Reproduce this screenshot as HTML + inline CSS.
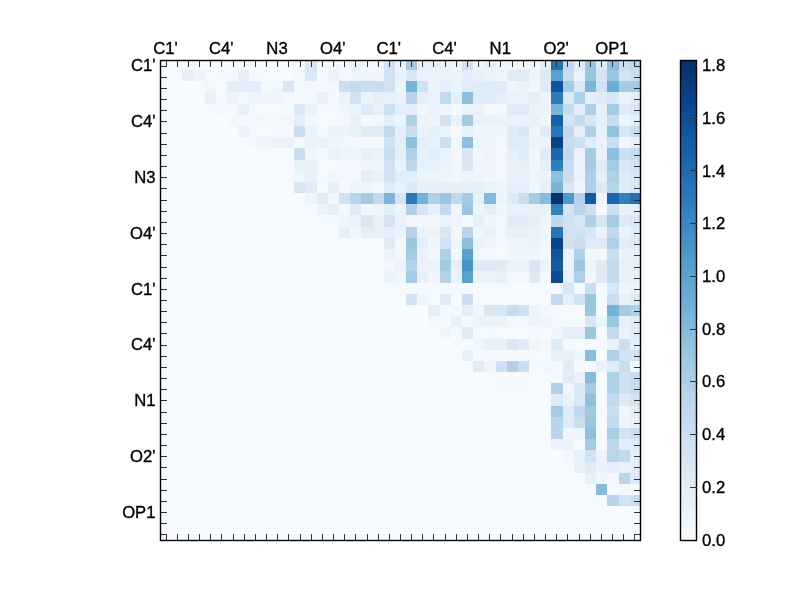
<!DOCTYPE html>
<html><head><meta charset="utf-8"><style>
html,body{margin:0;padding:0;background:#fff;width:800px;height:600px;overflow:hidden;}
#w{position:relative;width:800px;height:600px;}
svg{display:block;}
text{font-family:"Liberation Sans",sans-serif;stroke:#000;stroke-width:0.35px;}
</style></head><body><div id="w">
<svg width="800" height="600" viewBox="0 0 800 600" shape-rendering="crispEdges">
<rect x="0" y="0" width="800" height="600" fill="#ffffff"/>
<rect x="160" y="60" width="11" height="10" fill="#f7fbff"/>
<rect x="171" y="60" width="11" height="10" fill="#f7fbff"/>
<rect x="182" y="60" width="12" height="10" fill="#f7fbff"/>
<rect x="194" y="60" width="11" height="10" fill="#f7fbff"/>
<rect x="205" y="60" width="11" height="10" fill="#f7fbff"/>
<rect x="216" y="60" width="11" height="10" fill="#f7fbff"/>
<rect x="227" y="60" width="11" height="10" fill="#f7fbff"/>
<rect x="238" y="60" width="11" height="10" fill="#f7fbff"/>
<rect x="249" y="60" width="12" height="10" fill="#f7fbff"/>
<rect x="261" y="60" width="11" height="10" fill="#f7fbff"/>
<rect x="272" y="60" width="11" height="10" fill="#f7fbff"/>
<rect x="283" y="60" width="11" height="10" fill="#f7fbff"/>
<rect x="294" y="60" width="11" height="10" fill="#f4f9fe"/>
<rect x="305" y="60" width="12" height="10" fill="#d9e7f5"/>
<rect x="317" y="60" width="11" height="10" fill="#f4f9fe"/>
<rect x="328" y="60" width="11" height="10" fill="#f2f8fd"/>
<rect x="339" y="60" width="11" height="10" fill="#f4f9fe"/>
<rect x="350" y="60" width="11" height="10" fill="#eaf3fb"/>
<rect x="361" y="60" width="12" height="10" fill="#f1f7fd"/>
<rect x="373" y="60" width="11" height="10" fill="#f1f7fd"/>
<rect x="384" y="60" width="11" height="10" fill="#d1e2f3"/>
<rect x="395" y="60" width="11" height="10" fill="#eaf3fb"/>
<rect x="406" y="60" width="11" height="10" fill="#a3cce3"/>
<rect x="417" y="60" width="11" height="10" fill="#e7f1fa"/>
<rect x="428" y="60" width="12" height="10" fill="#e7f1fa"/>
<rect x="440" y="60" width="11" height="10" fill="#eaf3fb"/>
<rect x="451" y="60" width="11" height="10" fill="#eff6fc"/>
<rect x="462" y="60" width="11" height="10" fill="#d1e2f3"/>
<rect x="473" y="60" width="11" height="10" fill="#eff6fc"/>
<rect x="484" y="60" width="12" height="10" fill="#e7f1fa"/>
<rect x="496" y="60" width="11" height="10" fill="#eff6fc"/>
<rect x="507" y="60" width="11" height="10" fill="#eff6fc"/>
<rect x="518" y="60" width="11" height="10" fill="#eff6fc"/>
<rect x="529" y="60" width="11" height="10" fill="#f2f8fd"/>
<rect x="540" y="60" width="11" height="10" fill="#e4eff9"/>
<rect x="551" y="60" width="12" height="10" fill="#2272b6"/>
<rect x="563" y="60" width="11" height="10" fill="#c2d9ee"/>
<rect x="574" y="60" width="11" height="10" fill="#dfecf7"/>
<rect x="585" y="60" width="11" height="10" fill="#99c7e0"/>
<rect x="596" y="60" width="11" height="10" fill="#dfecf7"/>
<rect x="607" y="60" width="12" height="10" fill="#8cc0dd"/>
<rect x="619" y="60" width="11" height="10" fill="#cadef0"/>
<rect x="630" y="60" width="11" height="10" fill="#bcd7eb"/>
<rect x="160" y="70" width="11" height="11" fill="#f7fbff"/>
<rect x="171" y="70" width="11" height="11" fill="#f7fbff"/>
<rect x="182" y="70" width="12" height="11" fill="#e4eff9"/>
<rect x="194" y="70" width="11" height="11" fill="#ecf4fb"/>
<rect x="205" y="70" width="11" height="11" fill="#f4f9fe"/>
<rect x="216" y="70" width="11" height="11" fill="#f2f8fd"/>
<rect x="227" y="70" width="11" height="11" fill="#f4f9fe"/>
<rect x="238" y="70" width="11" height="11" fill="#e4eff9"/>
<rect x="249" y="70" width="12" height="11" fill="#f5fafe"/>
<rect x="261" y="70" width="11" height="11" fill="#f5fafe"/>
<rect x="272" y="70" width="11" height="11" fill="#f5fafe"/>
<rect x="283" y="70" width="11" height="11" fill="#f5fafe"/>
<rect x="294" y="70" width="11" height="11" fill="#f1f7fd"/>
<rect x="305" y="70" width="12" height="11" fill="#dbe9f6"/>
<rect x="317" y="70" width="11" height="11" fill="#f4f9fe"/>
<rect x="328" y="70" width="11" height="11" fill="#eaf3fb"/>
<rect x="339" y="70" width="11" height="11" fill="#f2f8fd"/>
<rect x="350" y="70" width="11" height="11" fill="#eff6fc"/>
<rect x="361" y="70" width="12" height="11" fill="#eef5fc"/>
<rect x="373" y="70" width="11" height="11" fill="#eff6fc"/>
<rect x="384" y="70" width="11" height="11" fill="#d1e2f3"/>
<rect x="395" y="70" width="11" height="11" fill="#e7f1fa"/>
<rect x="406" y="70" width="11" height="11" fill="#d9e7f5"/>
<rect x="417" y="70" width="11" height="11" fill="#eaf3fb"/>
<rect x="428" y="70" width="12" height="11" fill="#eaf3fb"/>
<rect x="440" y="70" width="11" height="11" fill="#ecf4fb"/>
<rect x="451" y="70" width="11" height="11" fill="#ecf4fb"/>
<rect x="462" y="70" width="11" height="11" fill="#e4eff9"/>
<rect x="473" y="70" width="11" height="11" fill="#e7f1fa"/>
<rect x="484" y="70" width="12" height="11" fill="#eaf3fb"/>
<rect x="496" y="70" width="11" height="11" fill="#eff6fc"/>
<rect x="507" y="70" width="11" height="11" fill="#deebf7"/>
<rect x="518" y="70" width="11" height="11" fill="#deebf7"/>
<rect x="529" y="70" width="11" height="11" fill="#ecf4fb"/>
<rect x="540" y="70" width="11" height="11" fill="#deebf7"/>
<rect x="551" y="70" width="12" height="11" fill="#58a1cf"/>
<rect x="563" y="70" width="11" height="11" fill="#c8dcf0"/>
<rect x="574" y="70" width="11" height="11" fill="#eaf3fb"/>
<rect x="585" y="70" width="11" height="11" fill="#99c7e0"/>
<rect x="596" y="70" width="11" height="11" fill="#d6e5f4"/>
<rect x="607" y="70" width="12" height="11" fill="#99c7e0"/>
<rect x="619" y="70" width="11" height="11" fill="#d1e2f3"/>
<rect x="630" y="70" width="11" height="11" fill="#cadef0"/>
<rect x="160" y="81" width="11" height="11" fill="#f7fbff"/>
<rect x="171" y="81" width="11" height="11" fill="#f7fbff"/>
<rect x="182" y="81" width="12" height="11" fill="#f7fbff"/>
<rect x="194" y="81" width="11" height="11" fill="#f7fbff"/>
<rect x="205" y="81" width="11" height="11" fill="#eff6fc"/>
<rect x="216" y="81" width="11" height="11" fill="#f4f9fe"/>
<rect x="227" y="81" width="11" height="11" fill="#e1edf8"/>
<rect x="238" y="81" width="11" height="11" fill="#e1edf8"/>
<rect x="249" y="81" width="12" height="11" fill="#e1edf8"/>
<rect x="261" y="81" width="11" height="11" fill="#f4f9fe"/>
<rect x="272" y="81" width="11" height="11" fill="#eff6fc"/>
<rect x="283" y="81" width="11" height="11" fill="#d9e7f5"/>
<rect x="294" y="81" width="11" height="11" fill="#f4f9fe"/>
<rect x="305" y="81" width="12" height="11" fill="#f2f8fd"/>
<rect x="317" y="81" width="11" height="11" fill="#f4f9fe"/>
<rect x="328" y="81" width="11" height="11" fill="#f2f8fd"/>
<rect x="339" y="81" width="11" height="11" fill="#cadef0"/>
<rect x="350" y="81" width="11" height="11" fill="#c2d9ee"/>
<rect x="361" y="81" width="12" height="11" fill="#cadef0"/>
<rect x="373" y="81" width="11" height="11" fill="#cadef0"/>
<rect x="384" y="81" width="11" height="11" fill="#d1e2f3"/>
<rect x="395" y="81" width="11" height="11" fill="#ecf4fb"/>
<rect x="406" y="81" width="11" height="11" fill="#74b3d8"/>
<rect x="417" y="81" width="11" height="11" fill="#d1e2f3"/>
<rect x="428" y="81" width="12" height="11" fill="#ecf4fb"/>
<rect x="440" y="81" width="11" height="11" fill="#e4eff9"/>
<rect x="451" y="81" width="11" height="11" fill="#ecf4fb"/>
<rect x="462" y="81" width="11" height="11" fill="#dfecf7"/>
<rect x="473" y="81" width="11" height="11" fill="#dfecf7"/>
<rect x="484" y="81" width="12" height="11" fill="#dfecf7"/>
<rect x="496" y="81" width="11" height="11" fill="#dfecf7"/>
<rect x="507" y="81" width="11" height="11" fill="#eef5fc"/>
<rect x="518" y="81" width="11" height="11" fill="#eaf3fb"/>
<rect x="529" y="81" width="11" height="11" fill="#eff6fc"/>
<rect x="540" y="81" width="11" height="11" fill="#dfecf7"/>
<rect x="551" y="81" width="12" height="11" fill="#0c56a0"/>
<rect x="563" y="81" width="11" height="11" fill="#a3cce3"/>
<rect x="574" y="81" width="11" height="11" fill="#dbe9f6"/>
<rect x="585" y="81" width="11" height="11" fill="#79b5d9"/>
<rect x="596" y="81" width="11" height="11" fill="#cfe1f2"/>
<rect x="607" y="81" width="12" height="11" fill="#69add5"/>
<rect x="619" y="81" width="11" height="11" fill="#a3cce3"/>
<rect x="630" y="81" width="11" height="11" fill="#a3cce3"/>
<rect x="160" y="92" width="11" height="12" fill="#f7fbff"/>
<rect x="171" y="92" width="11" height="12" fill="#f7fbff"/>
<rect x="182" y="92" width="12" height="12" fill="#f7fbff"/>
<rect x="194" y="92" width="11" height="12" fill="#f7fbff"/>
<rect x="205" y="92" width="11" height="12" fill="#e7f1fa"/>
<rect x="216" y="92" width="11" height="12" fill="#f4f9fe"/>
<rect x="227" y="92" width="11" height="12" fill="#ecf4fb"/>
<rect x="238" y="92" width="11" height="12" fill="#f2f8fd"/>
<rect x="249" y="92" width="12" height="12" fill="#eef5fc"/>
<rect x="261" y="92" width="11" height="12" fill="#eff6fc"/>
<rect x="272" y="92" width="11" height="12" fill="#eff6fc"/>
<rect x="283" y="92" width="11" height="12" fill="#f2f8fd"/>
<rect x="294" y="92" width="11" height="12" fill="#f4f9fe"/>
<rect x="305" y="92" width="12" height="12" fill="#f2f8fd"/>
<rect x="317" y="92" width="11" height="12" fill="#e7f1fa"/>
<rect x="328" y="92" width="11" height="12" fill="#f2f8fd"/>
<rect x="339" y="92" width="11" height="12" fill="#eaf3fb"/>
<rect x="350" y="92" width="11" height="12" fill="#d1e2f3"/>
<rect x="361" y="92" width="12" height="12" fill="#ecf4fb"/>
<rect x="373" y="92" width="11" height="12" fill="#e4eff9"/>
<rect x="384" y="92" width="11" height="12" fill="#e7f1fa"/>
<rect x="395" y="92" width="11" height="12" fill="#eaf3fb"/>
<rect x="406" y="92" width="11" height="12" fill="#b8d5ea"/>
<rect x="417" y="92" width="11" height="12" fill="#e4eff9"/>
<rect x="428" y="92" width="12" height="12" fill="#eaf3fb"/>
<rect x="440" y="92" width="11" height="12" fill="#c2d9ee"/>
<rect x="451" y="92" width="11" height="12" fill="#e4eff9"/>
<rect x="462" y="92" width="11" height="12" fill="#8cc0dd"/>
<rect x="473" y="92" width="11" height="12" fill="#dfecf7"/>
<rect x="484" y="92" width="12" height="12" fill="#dfecf7"/>
<rect x="496" y="92" width="11" height="12" fill="#e4eff9"/>
<rect x="507" y="92" width="11" height="12" fill="#eaf3fb"/>
<rect x="518" y="92" width="11" height="12" fill="#eaf3fb"/>
<rect x="529" y="92" width="11" height="12" fill="#e4eff9"/>
<rect x="540" y="92" width="11" height="12" fill="#eaf3fb"/>
<rect x="551" y="92" width="12" height="12" fill="#2b7bba"/>
<rect x="563" y="92" width="11" height="12" fill="#dbe9f6"/>
<rect x="574" y="92" width="11" height="12" fill="#aed1e7"/>
<rect x="585" y="92" width="11" height="12" fill="#e4eff9"/>
<rect x="596" y="92" width="11" height="12" fill="#dfecf7"/>
<rect x="607" y="92" width="12" height="12" fill="#d9e7f5"/>
<rect x="619" y="92" width="11" height="12" fill="#eaf3fb"/>
<rect x="630" y="92" width="11" height="12" fill="#e4eff9"/>
<rect x="160" y="104" width="11" height="11" fill="#f7fbff"/>
<rect x="171" y="104" width="11" height="11" fill="#f7fbff"/>
<rect x="182" y="104" width="12" height="11" fill="#f7fbff"/>
<rect x="194" y="104" width="11" height="11" fill="#f7fbff"/>
<rect x="205" y="104" width="11" height="11" fill="#f7fbff"/>
<rect x="216" y="104" width="11" height="11" fill="#f2f8fd"/>
<rect x="227" y="104" width="11" height="11" fill="#f4f9fe"/>
<rect x="238" y="104" width="11" height="11" fill="#e7f1fa"/>
<rect x="249" y="104" width="12" height="11" fill="#f4f9fe"/>
<rect x="261" y="104" width="11" height="11" fill="#f4f9fe"/>
<rect x="272" y="104" width="11" height="11" fill="#f4f9fe"/>
<rect x="283" y="104" width="11" height="11" fill="#f4f9fe"/>
<rect x="294" y="104" width="11" height="11" fill="#dbe9f6"/>
<rect x="305" y="104" width="12" height="11" fill="#eaf3fb"/>
<rect x="317" y="104" width="11" height="11" fill="#f4f9fe"/>
<rect x="328" y="104" width="11" height="11" fill="#f4f9fe"/>
<rect x="339" y="104" width="11" height="11" fill="#eff6fc"/>
<rect x="350" y="104" width="11" height="11" fill="#ecf4fb"/>
<rect x="361" y="104" width="12" height="11" fill="#dfecf7"/>
<rect x="373" y="104" width="11" height="11" fill="#e7f1fa"/>
<rect x="384" y="104" width="11" height="11" fill="#cde0f1"/>
<rect x="395" y="104" width="11" height="11" fill="#e4eff9"/>
<rect x="406" y="104" width="11" height="11" fill="#e4eff9"/>
<rect x="417" y="104" width="11" height="11" fill="#eff6fc"/>
<rect x="428" y="104" width="12" height="11" fill="#eaf3fb"/>
<rect x="440" y="104" width="11" height="11" fill="#eff6fc"/>
<rect x="451" y="104" width="11" height="11" fill="#f2f8fd"/>
<rect x="462" y="104" width="11" height="11" fill="#eaf3fb"/>
<rect x="473" y="104" width="11" height="11" fill="#eaf3fb"/>
<rect x="484" y="104" width="12" height="11" fill="#f4f9fe"/>
<rect x="496" y="104" width="11" height="11" fill="#f2f8fd"/>
<rect x="507" y="104" width="11" height="11" fill="#dfecf7"/>
<rect x="518" y="104" width="11" height="11" fill="#dfecf7"/>
<rect x="529" y="104" width="11" height="11" fill="#eaf3fb"/>
<rect x="540" y="104" width="11" height="11" fill="#eaf3fb"/>
<rect x="551" y="104" width="12" height="11" fill="#79b5d9"/>
<rect x="563" y="104" width="11" height="11" fill="#c8dcf0"/>
<rect x="574" y="104" width="11" height="11" fill="#e4eff9"/>
<rect x="585" y="104" width="11" height="11" fill="#aed1e7"/>
<rect x="596" y="104" width="11" height="11" fill="#e7f1fa"/>
<rect x="607" y="104" width="12" height="11" fill="#a3cce3"/>
<rect x="619" y="104" width="11" height="11" fill="#dfecf7"/>
<rect x="630" y="104" width="11" height="11" fill="#d9e7f5"/>
<rect x="160" y="115" width="11" height="11" fill="#f7fbff"/>
<rect x="171" y="115" width="11" height="11" fill="#f7fbff"/>
<rect x="182" y="115" width="12" height="11" fill="#f7fbff"/>
<rect x="194" y="115" width="11" height="11" fill="#f7fbff"/>
<rect x="205" y="115" width="11" height="11" fill="#f7fbff"/>
<rect x="216" y="115" width="11" height="11" fill="#f7fbff"/>
<rect x="227" y="115" width="11" height="11" fill="#f2f8fd"/>
<rect x="238" y="115" width="11" height="11" fill="#f4f9fe"/>
<rect x="249" y="115" width="12" height="11" fill="#eff6fc"/>
<rect x="261" y="115" width="11" height="11" fill="#f2f8fd"/>
<rect x="272" y="115" width="11" height="11" fill="#f1f7fd"/>
<rect x="283" y="115" width="11" height="11" fill="#eff6fc"/>
<rect x="294" y="115" width="11" height="11" fill="#e4eff9"/>
<rect x="305" y="115" width="12" height="11" fill="#f2f8fd"/>
<rect x="317" y="115" width="11" height="11" fill="#f4f9fe"/>
<rect x="328" y="115" width="11" height="11" fill="#f4f9fe"/>
<rect x="339" y="115" width="11" height="11" fill="#f4f9fe"/>
<rect x="350" y="115" width="11" height="11" fill="#e7f1fa"/>
<rect x="361" y="115" width="12" height="11" fill="#f4f9fe"/>
<rect x="373" y="115" width="11" height="11" fill="#f1f7fd"/>
<rect x="384" y="115" width="11" height="11" fill="#e4eff9"/>
<rect x="395" y="115" width="11" height="11" fill="#ecf4fb"/>
<rect x="406" y="115" width="11" height="11" fill="#aed1e7"/>
<rect x="417" y="115" width="11" height="11" fill="#eaf3fb"/>
<rect x="428" y="115" width="12" height="11" fill="#ecf4fb"/>
<rect x="440" y="115" width="11" height="11" fill="#d1e2f3"/>
<rect x="451" y="115" width="11" height="11" fill="#eaf3fb"/>
<rect x="462" y="115" width="11" height="11" fill="#a3cce3"/>
<rect x="473" y="115" width="11" height="11" fill="#eaf3fb"/>
<rect x="484" y="115" width="12" height="11" fill="#eaf3fb"/>
<rect x="496" y="115" width="11" height="11" fill="#ecf4fb"/>
<rect x="507" y="115" width="11" height="11" fill="#eaf3fb"/>
<rect x="518" y="115" width="11" height="11" fill="#eaf3fb"/>
<rect x="529" y="115" width="11" height="11" fill="#e7f1fa"/>
<rect x="540" y="115" width="11" height="11" fill="#eef5fc"/>
<rect x="551" y="115" width="12" height="11" fill="#1561a9"/>
<rect x="563" y="115" width="11" height="11" fill="#d6e5f4"/>
<rect x="574" y="115" width="11" height="11" fill="#c8dcf0"/>
<rect x="585" y="115" width="11" height="11" fill="#d9e7f5"/>
<rect x="596" y="115" width="11" height="11" fill="#e7f1fa"/>
<rect x="607" y="115" width="12" height="11" fill="#c8dcf0"/>
<rect x="619" y="115" width="11" height="11" fill="#ecf4fb"/>
<rect x="630" y="115" width="11" height="11" fill="#e4eff9"/>
<rect x="160" y="126" width="11" height="11" fill="#f7fbff"/>
<rect x="171" y="126" width="11" height="11" fill="#f7fbff"/>
<rect x="182" y="126" width="12" height="11" fill="#f7fbff"/>
<rect x="194" y="126" width="11" height="11" fill="#f7fbff"/>
<rect x="205" y="126" width="11" height="11" fill="#f7fbff"/>
<rect x="216" y="126" width="11" height="11" fill="#f7fbff"/>
<rect x="227" y="126" width="11" height="11" fill="#f7fbff"/>
<rect x="238" y="126" width="11" height="11" fill="#eaf3fb"/>
<rect x="249" y="126" width="12" height="11" fill="#f4f9fe"/>
<rect x="261" y="126" width="11" height="11" fill="#f4f9fe"/>
<rect x="272" y="126" width="11" height="11" fill="#f4f9fe"/>
<rect x="283" y="126" width="11" height="11" fill="#f4f9fe"/>
<rect x="294" y="126" width="11" height="11" fill="#cadef0"/>
<rect x="305" y="126" width="12" height="11" fill="#eaf3fb"/>
<rect x="317" y="126" width="11" height="11" fill="#f4f9fe"/>
<rect x="328" y="126" width="11" height="11" fill="#eaf3fb"/>
<rect x="339" y="126" width="11" height="11" fill="#ecf4fb"/>
<rect x="350" y="126" width="11" height="11" fill="#e7f1fa"/>
<rect x="361" y="126" width="12" height="11" fill="#dfecf7"/>
<rect x="373" y="126" width="11" height="11" fill="#dfecf7"/>
<rect x="384" y="126" width="11" height="11" fill="#c2d9ee"/>
<rect x="395" y="126" width="11" height="11" fill="#e4eff9"/>
<rect x="406" y="126" width="11" height="11" fill="#cadef0"/>
<rect x="417" y="126" width="11" height="11" fill="#eaf3fb"/>
<rect x="428" y="126" width="12" height="11" fill="#e4eff9"/>
<rect x="440" y="126" width="11" height="11" fill="#ecf4fb"/>
<rect x="451" y="126" width="11" height="11" fill="#f4f9fe"/>
<rect x="462" y="126" width="11" height="11" fill="#e7f1fa"/>
<rect x="473" y="126" width="11" height="11" fill="#eff6fc"/>
<rect x="484" y="126" width="12" height="11" fill="#eff6fc"/>
<rect x="496" y="126" width="11" height="11" fill="#eff6fc"/>
<rect x="507" y="126" width="11" height="11" fill="#dfecf7"/>
<rect x="518" y="126" width="11" height="11" fill="#d9e7f5"/>
<rect x="529" y="126" width="11" height="11" fill="#eef5fc"/>
<rect x="540" y="126" width="11" height="11" fill="#dfecf7"/>
<rect x="551" y="126" width="12" height="11" fill="#2777b8"/>
<rect x="563" y="126" width="11" height="11" fill="#c2d9ee"/>
<rect x="574" y="126" width="11" height="11" fill="#e4eff9"/>
<rect x="585" y="126" width="11" height="11" fill="#aed1e7"/>
<rect x="596" y="126" width="11" height="11" fill="#e7f1fa"/>
<rect x="607" y="126" width="12" height="11" fill="#91c3de"/>
<rect x="619" y="126" width="11" height="11" fill="#d9e7f5"/>
<rect x="630" y="126" width="11" height="11" fill="#cadef0"/>
<rect x="160" y="137" width="11" height="11" fill="#f7fbff"/>
<rect x="171" y="137" width="11" height="11" fill="#f7fbff"/>
<rect x="182" y="137" width="12" height="11" fill="#f7fbff"/>
<rect x="194" y="137" width="11" height="11" fill="#f7fbff"/>
<rect x="205" y="137" width="11" height="11" fill="#f7fbff"/>
<rect x="216" y="137" width="11" height="11" fill="#f7fbff"/>
<rect x="227" y="137" width="11" height="11" fill="#f7fbff"/>
<rect x="238" y="137" width="11" height="11" fill="#f7fbff"/>
<rect x="249" y="137" width="12" height="11" fill="#eff6fc"/>
<rect x="261" y="137" width="11" height="11" fill="#eef5fc"/>
<rect x="272" y="137" width="11" height="11" fill="#eaf3fb"/>
<rect x="283" y="137" width="11" height="11" fill="#eaf3fb"/>
<rect x="294" y="137" width="11" height="11" fill="#f4f9fe"/>
<rect x="305" y="137" width="12" height="11" fill="#eaf3fb"/>
<rect x="317" y="137" width="11" height="11" fill="#eaf3fb"/>
<rect x="328" y="137" width="11" height="11" fill="#eff6fc"/>
<rect x="339" y="137" width="11" height="11" fill="#f1f7fd"/>
<rect x="350" y="137" width="11" height="11" fill="#f2f8fd"/>
<rect x="361" y="137" width="12" height="11" fill="#f2f8fd"/>
<rect x="373" y="137" width="11" height="11" fill="#f4f9fe"/>
<rect x="384" y="137" width="11" height="11" fill="#d3e3f3"/>
<rect x="395" y="137" width="11" height="11" fill="#e4eff9"/>
<rect x="406" y="137" width="11" height="11" fill="#8cc0dd"/>
<rect x="417" y="137" width="11" height="11" fill="#e4eff9"/>
<rect x="428" y="137" width="12" height="11" fill="#e7f1fa"/>
<rect x="440" y="137" width="11" height="11" fill="#cde0f1"/>
<rect x="451" y="137" width="11" height="11" fill="#eff6fc"/>
<rect x="462" y="137" width="11" height="11" fill="#8cc0dd"/>
<rect x="473" y="137" width="11" height="11" fill="#eff6fc"/>
<rect x="484" y="137" width="12" height="11" fill="#eff6fc"/>
<rect x="496" y="137" width="11" height="11" fill="#f1f7fd"/>
<rect x="507" y="137" width="11" height="11" fill="#dfecf7"/>
<rect x="518" y="137" width="11" height="11" fill="#dfecf7"/>
<rect x="529" y="137" width="11" height="11" fill="#ecf4fb"/>
<rect x="540" y="137" width="11" height="11" fill="#ecf4fb"/>
<rect x="551" y="137" width="12" height="11" fill="#084082"/>
<rect x="563" y="137" width="11" height="11" fill="#c8dcf0"/>
<rect x="574" y="137" width="11" height="11" fill="#cde0f1"/>
<rect x="585" y="137" width="11" height="11" fill="#e1edf8"/>
<rect x="596" y="137" width="11" height="11" fill="#eaf3fb"/>
<rect x="607" y="137" width="12" height="11" fill="#cadef0"/>
<rect x="619" y="137" width="11" height="11" fill="#eff6fc"/>
<rect x="630" y="137" width="11" height="11" fill="#e7f1fa"/>
<rect x="160" y="148" width="11" height="12" fill="#f7fbff"/>
<rect x="171" y="148" width="11" height="12" fill="#f7fbff"/>
<rect x="182" y="148" width="12" height="12" fill="#f7fbff"/>
<rect x="194" y="148" width="11" height="12" fill="#f7fbff"/>
<rect x="205" y="148" width="11" height="12" fill="#f7fbff"/>
<rect x="216" y="148" width="11" height="12" fill="#f7fbff"/>
<rect x="227" y="148" width="11" height="12" fill="#f7fbff"/>
<rect x="238" y="148" width="11" height="12" fill="#f7fbff"/>
<rect x="249" y="148" width="12" height="12" fill="#f7fbff"/>
<rect x="261" y="148" width="11" height="12" fill="#f7fbff"/>
<rect x="272" y="148" width="11" height="12" fill="#f7fbff"/>
<rect x="283" y="148" width="11" height="12" fill="#f7fbff"/>
<rect x="294" y="148" width="11" height="12" fill="#cadef0"/>
<rect x="305" y="148" width="12" height="12" fill="#eef5fc"/>
<rect x="317" y="148" width="11" height="12" fill="#f4f9fe"/>
<rect x="328" y="148" width="11" height="12" fill="#eaf3fb"/>
<rect x="339" y="148" width="11" height="12" fill="#eef5fc"/>
<rect x="350" y="148" width="11" height="12" fill="#eef5fc"/>
<rect x="361" y="148" width="12" height="12" fill="#e7f1fa"/>
<rect x="373" y="148" width="11" height="12" fill="#eaf3fb"/>
<rect x="384" y="148" width="11" height="12" fill="#cadef0"/>
<rect x="395" y="148" width="11" height="12" fill="#e4eff9"/>
<rect x="406" y="148" width="11" height="12" fill="#aed1e7"/>
<rect x="417" y="148" width="11" height="12" fill="#e7f1fa"/>
<rect x="428" y="148" width="12" height="12" fill="#e1edf8"/>
<rect x="440" y="148" width="11" height="12" fill="#ecf4fb"/>
<rect x="451" y="148" width="11" height="12" fill="#f1f7fd"/>
<rect x="462" y="148" width="11" height="12" fill="#d9e7f5"/>
<rect x="473" y="148" width="11" height="12" fill="#f1f7fd"/>
<rect x="484" y="148" width="12" height="12" fill="#eef5fc"/>
<rect x="496" y="148" width="11" height="12" fill="#f1f7fd"/>
<rect x="507" y="148" width="11" height="12" fill="#e4eff9"/>
<rect x="518" y="148" width="11" height="12" fill="#dfecf7"/>
<rect x="529" y="148" width="11" height="12" fill="#f1f7fd"/>
<rect x="540" y="148" width="11" height="12" fill="#dfecf7"/>
<rect x="551" y="148" width="12" height="12" fill="#1967ad"/>
<rect x="563" y="148" width="11" height="12" fill="#c2d9ee"/>
<rect x="574" y="148" width="11" height="12" fill="#eaf3fb"/>
<rect x="585" y="148" width="11" height="12" fill="#a3cce3"/>
<rect x="596" y="148" width="11" height="12" fill="#eaf3fb"/>
<rect x="607" y="148" width="12" height="12" fill="#8cc0dd"/>
<rect x="619" y="148" width="11" height="12" fill="#cde0f1"/>
<rect x="630" y="148" width="11" height="12" fill="#c8dcf0"/>
<rect x="160" y="160" width="11" height="11" fill="#f7fbff"/>
<rect x="171" y="160" width="11" height="11" fill="#f7fbff"/>
<rect x="182" y="160" width="12" height="11" fill="#f7fbff"/>
<rect x="194" y="160" width="11" height="11" fill="#f7fbff"/>
<rect x="205" y="160" width="11" height="11" fill="#f7fbff"/>
<rect x="216" y="160" width="11" height="11" fill="#f7fbff"/>
<rect x="227" y="160" width="11" height="11" fill="#f7fbff"/>
<rect x="238" y="160" width="11" height="11" fill="#f7fbff"/>
<rect x="249" y="160" width="12" height="11" fill="#f7fbff"/>
<rect x="261" y="160" width="11" height="11" fill="#f7fbff"/>
<rect x="272" y="160" width="11" height="11" fill="#f7fbff"/>
<rect x="283" y="160" width="11" height="11" fill="#f7fbff"/>
<rect x="294" y="160" width="11" height="11" fill="#e7f1fa"/>
<rect x="305" y="160" width="12" height="11" fill="#e7f1fa"/>
<rect x="317" y="160" width="11" height="11" fill="#f4f9fe"/>
<rect x="328" y="160" width="11" height="11" fill="#f4f9fe"/>
<rect x="339" y="160" width="11" height="11" fill="#f2f8fd"/>
<rect x="350" y="160" width="11" height="11" fill="#f2f8fd"/>
<rect x="361" y="160" width="12" height="11" fill="#eef5fc"/>
<rect x="373" y="160" width="11" height="11" fill="#eff6fc"/>
<rect x="384" y="160" width="11" height="11" fill="#d1e2f3"/>
<rect x="395" y="160" width="11" height="11" fill="#eaf3fb"/>
<rect x="406" y="160" width="11" height="11" fill="#bcd7eb"/>
<rect x="417" y="160" width="11" height="11" fill="#e7f1fa"/>
<rect x="428" y="160" width="12" height="11" fill="#e7f1fa"/>
<rect x="440" y="160" width="11" height="11" fill="#ecf4fb"/>
<rect x="451" y="160" width="11" height="11" fill="#eff6fc"/>
<rect x="462" y="160" width="11" height="11" fill="#d9e7f5"/>
<rect x="473" y="160" width="11" height="11" fill="#eef5fc"/>
<rect x="484" y="160" width="12" height="11" fill="#eef5fc"/>
<rect x="496" y="160" width="11" height="11" fill="#f1f7fd"/>
<rect x="507" y="160" width="11" height="11" fill="#e7f1fa"/>
<rect x="518" y="160" width="11" height="11" fill="#e4eff9"/>
<rect x="529" y="160" width="11" height="11" fill="#eff6fc"/>
<rect x="540" y="160" width="11" height="11" fill="#e4eff9"/>
<rect x="551" y="160" width="12" height="11" fill="#2e7ebc"/>
<rect x="563" y="160" width="11" height="11" fill="#c8dcf0"/>
<rect x="574" y="160" width="11" height="11" fill="#eaf3fb"/>
<rect x="585" y="160" width="11" height="11" fill="#a3cce3"/>
<rect x="596" y="160" width="11" height="11" fill="#dfecf7"/>
<rect x="607" y="160" width="12" height="11" fill="#a3cce3"/>
<rect x="619" y="160" width="11" height="11" fill="#d9e7f5"/>
<rect x="630" y="160" width="11" height="11" fill="#d1e2f3"/>
<rect x="160" y="171" width="11" height="11" fill="#f7fbff"/>
<rect x="171" y="171" width="11" height="11" fill="#f7fbff"/>
<rect x="182" y="171" width="12" height="11" fill="#f7fbff"/>
<rect x="194" y="171" width="11" height="11" fill="#f7fbff"/>
<rect x="205" y="171" width="11" height="11" fill="#f7fbff"/>
<rect x="216" y="171" width="11" height="11" fill="#f7fbff"/>
<rect x="227" y="171" width="11" height="11" fill="#f7fbff"/>
<rect x="238" y="171" width="11" height="11" fill="#f7fbff"/>
<rect x="249" y="171" width="12" height="11" fill="#f7fbff"/>
<rect x="261" y="171" width="11" height="11" fill="#f7fbff"/>
<rect x="272" y="171" width="11" height="11" fill="#f7fbff"/>
<rect x="283" y="171" width="11" height="11" fill="#f7fbff"/>
<rect x="294" y="171" width="11" height="11" fill="#eff6fc"/>
<rect x="305" y="171" width="12" height="11" fill="#e7f1fa"/>
<rect x="317" y="171" width="11" height="11" fill="#f4f9fe"/>
<rect x="328" y="171" width="11" height="11" fill="#eff6fc"/>
<rect x="339" y="171" width="11" height="11" fill="#f2f8fd"/>
<rect x="350" y="171" width="11" height="11" fill="#f2f8fd"/>
<rect x="361" y="171" width="12" height="11" fill="#e3eef8"/>
<rect x="373" y="171" width="11" height="11" fill="#eaf3fb"/>
<rect x="384" y="171" width="11" height="11" fill="#d3e3f3"/>
<rect x="395" y="171" width="11" height="11" fill="#e1edf8"/>
<rect x="406" y="171" width="11" height="11" fill="#e1edf8"/>
<rect x="417" y="171" width="11" height="11" fill="#ecf4fb"/>
<rect x="428" y="171" width="12" height="11" fill="#ecf4fb"/>
<rect x="440" y="171" width="11" height="11" fill="#eef5fc"/>
<rect x="451" y="171" width="11" height="11" fill="#f1f7fd"/>
<rect x="462" y="171" width="11" height="11" fill="#ecf4fb"/>
<rect x="473" y="171" width="11" height="11" fill="#eef5fc"/>
<rect x="484" y="171" width="12" height="11" fill="#f1f7fd"/>
<rect x="496" y="171" width="11" height="11" fill="#f4f9fe"/>
<rect x="507" y="171" width="11" height="11" fill="#e7f1fa"/>
<rect x="518" y="171" width="11" height="11" fill="#e7f1fa"/>
<rect x="529" y="171" width="11" height="11" fill="#eef5fc"/>
<rect x="540" y="171" width="11" height="11" fill="#ecf4fb"/>
<rect x="551" y="171" width="12" height="11" fill="#8cc0dd"/>
<rect x="563" y="171" width="11" height="11" fill="#cadef0"/>
<rect x="574" y="171" width="11" height="11" fill="#eaf3fb"/>
<rect x="585" y="171" width="11" height="11" fill="#aed1e7"/>
<rect x="596" y="171" width="11" height="11" fill="#e4eff9"/>
<rect x="607" y="171" width="12" height="11" fill="#aed1e7"/>
<rect x="619" y="171" width="11" height="11" fill="#dfecf7"/>
<rect x="630" y="171" width="11" height="11" fill="#d9e7f5"/>
<rect x="160" y="182" width="11" height="11" fill="#f7fbff"/>
<rect x="171" y="182" width="11" height="11" fill="#f7fbff"/>
<rect x="182" y="182" width="12" height="11" fill="#f7fbff"/>
<rect x="194" y="182" width="11" height="11" fill="#f7fbff"/>
<rect x="205" y="182" width="11" height="11" fill="#f7fbff"/>
<rect x="216" y="182" width="11" height="11" fill="#f7fbff"/>
<rect x="227" y="182" width="11" height="11" fill="#f7fbff"/>
<rect x="238" y="182" width="11" height="11" fill="#f7fbff"/>
<rect x="249" y="182" width="12" height="11" fill="#f7fbff"/>
<rect x="261" y="182" width="11" height="11" fill="#f7fbff"/>
<rect x="272" y="182" width="11" height="11" fill="#f7fbff"/>
<rect x="283" y="182" width="11" height="11" fill="#f7fbff"/>
<rect x="294" y="182" width="11" height="11" fill="#d9e7f5"/>
<rect x="305" y="182" width="12" height="11" fill="#dfecf7"/>
<rect x="317" y="182" width="11" height="11" fill="#f4f9fe"/>
<rect x="328" y="182" width="11" height="11" fill="#e4eff9"/>
<rect x="339" y="182" width="11" height="11" fill="#f4f9fe"/>
<rect x="350" y="182" width="11" height="11" fill="#eef5fc"/>
<rect x="361" y="182" width="12" height="11" fill="#eff6fc"/>
<rect x="373" y="182" width="11" height="11" fill="#f2f8fd"/>
<rect x="384" y="182" width="11" height="11" fill="#dfecf7"/>
<rect x="395" y="182" width="11" height="11" fill="#e7f1fa"/>
<rect x="406" y="182" width="11" height="11" fill="#dbe9f6"/>
<rect x="417" y="182" width="11" height="11" fill="#e6f0f9"/>
<rect x="428" y="182" width="12" height="11" fill="#e6f0f9"/>
<rect x="440" y="182" width="11" height="11" fill="#e6f0f9"/>
<rect x="451" y="182" width="11" height="11" fill="#e6f0f9"/>
<rect x="462" y="182" width="11" height="11" fill="#e6f0f9"/>
<rect x="473" y="182" width="11" height="11" fill="#e6f0f9"/>
<rect x="484" y="182" width="12" height="11" fill="#eaf3fb"/>
<rect x="496" y="182" width="11" height="11" fill="#eff6fc"/>
<rect x="507" y="182" width="11" height="11" fill="#e4eff9"/>
<rect x="518" y="182" width="11" height="11" fill="#e4eff9"/>
<rect x="529" y="182" width="11" height="11" fill="#f1f7fd"/>
<rect x="540" y="182" width="11" height="11" fill="#e7f1fa"/>
<rect x="551" y="182" width="12" height="11" fill="#79b5d9"/>
<rect x="563" y="182" width="11" height="11" fill="#d9e7f5"/>
<rect x="574" y="182" width="11" height="11" fill="#eff6fc"/>
<rect x="585" y="182" width="11" height="11" fill="#aed1e7"/>
<rect x="596" y="182" width="11" height="11" fill="#dbe9f6"/>
<rect x="607" y="182" width="12" height="11" fill="#b8d5ea"/>
<rect x="619" y="182" width="11" height="11" fill="#dfecf7"/>
<rect x="630" y="182" width="11" height="11" fill="#d9e7f5"/>
<rect x="160" y="193" width="11" height="11" fill="#f7fbff"/>
<rect x="171" y="193" width="11" height="11" fill="#f7fbff"/>
<rect x="182" y="193" width="12" height="11" fill="#f7fbff"/>
<rect x="194" y="193" width="11" height="11" fill="#f7fbff"/>
<rect x="205" y="193" width="11" height="11" fill="#f7fbff"/>
<rect x="216" y="193" width="11" height="11" fill="#f7fbff"/>
<rect x="227" y="193" width="11" height="11" fill="#f7fbff"/>
<rect x="238" y="193" width="11" height="11" fill="#f7fbff"/>
<rect x="249" y="193" width="12" height="11" fill="#f7fbff"/>
<rect x="261" y="193" width="11" height="11" fill="#f7fbff"/>
<rect x="272" y="193" width="11" height="11" fill="#f7fbff"/>
<rect x="283" y="193" width="11" height="11" fill="#f7fbff"/>
<rect x="294" y="193" width="11" height="11" fill="#f7fbff"/>
<rect x="305" y="193" width="12" height="11" fill="#eef5fc"/>
<rect x="317" y="193" width="11" height="11" fill="#dfecf7"/>
<rect x="328" y="193" width="11" height="11" fill="#eff6fc"/>
<rect x="339" y="193" width="11" height="11" fill="#d1e2f3"/>
<rect x="350" y="193" width="11" height="11" fill="#b8d5ea"/>
<rect x="361" y="193" width="12" height="11" fill="#a3cce3"/>
<rect x="373" y="193" width="11" height="11" fill="#c2d9ee"/>
<rect x="384" y="193" width="11" height="11" fill="#79b5d9"/>
<rect x="395" y="193" width="11" height="11" fill="#d6e5f4"/>
<rect x="406" y="193" width="11" height="11" fill="#2b7bba"/>
<rect x="417" y="193" width="11" height="11" fill="#74b3d8"/>
<rect x="428" y="193" width="12" height="11" fill="#aed1e7"/>
<rect x="440" y="193" width="11" height="11" fill="#99c7e0"/>
<rect x="451" y="193" width="11" height="11" fill="#c1d9ed"/>
<rect x="462" y="193" width="11" height="11" fill="#a3cce3"/>
<rect x="473" y="193" width="11" height="11" fill="#e7f1fa"/>
<rect x="484" y="193" width="12" height="11" fill="#81badb"/>
<rect x="496" y="193" width="11" height="11" fill="#ecf4fb"/>
<rect x="507" y="193" width="11" height="11" fill="#deebf7"/>
<rect x="518" y="193" width="11" height="11" fill="#cadef0"/>
<rect x="529" y="193" width="11" height="11" fill="#a3cce3"/>
<rect x="540" y="193" width="11" height="11" fill="#87bddc"/>
<rect x="551" y="193" width="12" height="11" fill="#08326e"/>
<rect x="563" y="193" width="11" height="11" fill="#4d99ca"/>
<rect x="574" y="193" width="11" height="11" fill="#b4d3e9"/>
<rect x="585" y="193" width="11" height="11" fill="#115ca5"/>
<rect x="596" y="193" width="11" height="11" fill="#eef5fc"/>
<rect x="607" y="193" width="12" height="11" fill="#1967ad"/>
<rect x="619" y="193" width="11" height="11" fill="#3181bd"/>
<rect x="630" y="193" width="11" height="11" fill="#2272b6"/>
<rect x="160" y="204" width="11" height="11" fill="#f7fbff"/>
<rect x="171" y="204" width="11" height="11" fill="#f7fbff"/>
<rect x="182" y="204" width="12" height="11" fill="#f7fbff"/>
<rect x="194" y="204" width="11" height="11" fill="#f7fbff"/>
<rect x="205" y="204" width="11" height="11" fill="#f7fbff"/>
<rect x="216" y="204" width="11" height="11" fill="#f7fbff"/>
<rect x="227" y="204" width="11" height="11" fill="#f7fbff"/>
<rect x="238" y="204" width="11" height="11" fill="#f7fbff"/>
<rect x="249" y="204" width="12" height="11" fill="#f7fbff"/>
<rect x="261" y="204" width="11" height="11" fill="#f7fbff"/>
<rect x="272" y="204" width="11" height="11" fill="#f7fbff"/>
<rect x="283" y="204" width="11" height="11" fill="#f7fbff"/>
<rect x="294" y="204" width="11" height="11" fill="#f7fbff"/>
<rect x="305" y="204" width="12" height="11" fill="#f7fbff"/>
<rect x="317" y="204" width="11" height="11" fill="#ecf4fb"/>
<rect x="328" y="204" width="11" height="11" fill="#e4eff9"/>
<rect x="339" y="204" width="11" height="11" fill="#f2f8fd"/>
<rect x="350" y="204" width="11" height="11" fill="#dfecf7"/>
<rect x="361" y="204" width="12" height="11" fill="#eff6fc"/>
<rect x="373" y="204" width="11" height="11" fill="#eef5fc"/>
<rect x="384" y="204" width="11" height="11" fill="#e4eff9"/>
<rect x="395" y="204" width="11" height="11" fill="#ecf4fb"/>
<rect x="406" y="204" width="11" height="11" fill="#aed1e7"/>
<rect x="417" y="204" width="11" height="11" fill="#d6e5f4"/>
<rect x="428" y="204" width="12" height="11" fill="#e7f1fa"/>
<rect x="440" y="204" width="11" height="11" fill="#c2d9ee"/>
<rect x="451" y="204" width="11" height="11" fill="#eef5fc"/>
<rect x="462" y="204" width="11" height="11" fill="#99c7e0"/>
<rect x="473" y="204" width="11" height="11" fill="#eef5fc"/>
<rect x="484" y="204" width="12" height="11" fill="#e4eff9"/>
<rect x="496" y="204" width="11" height="11" fill="#eff6fc"/>
<rect x="507" y="204" width="11" height="11" fill="#e7f1fa"/>
<rect x="518" y="204" width="11" height="11" fill="#e7f1fa"/>
<rect x="529" y="204" width="11" height="11" fill="#e7f1fa"/>
<rect x="540" y="204" width="11" height="11" fill="#e7f1fa"/>
<rect x="551" y="204" width="12" height="11" fill="#3181bd"/>
<rect x="563" y="204" width="11" height="11" fill="#d6e5f4"/>
<rect x="574" y="204" width="11" height="11" fill="#b8d5ea"/>
<rect x="585" y="204" width="11" height="11" fill="#cde0f1"/>
<rect x="596" y="204" width="11" height="11" fill="#f2f8fd"/>
<rect x="607" y="204" width="12" height="11" fill="#cde0f1"/>
<rect x="619" y="204" width="11" height="11" fill="#e7f1fa"/>
<rect x="630" y="204" width="11" height="11" fill="#e7f1fa"/>
<rect x="160" y="215" width="11" height="12" fill="#f7fbff"/>
<rect x="171" y="215" width="11" height="12" fill="#f7fbff"/>
<rect x="182" y="215" width="12" height="12" fill="#f7fbff"/>
<rect x="194" y="215" width="11" height="12" fill="#f7fbff"/>
<rect x="205" y="215" width="11" height="12" fill="#f7fbff"/>
<rect x="216" y="215" width="11" height="12" fill="#f7fbff"/>
<rect x="227" y="215" width="11" height="12" fill="#f7fbff"/>
<rect x="238" y="215" width="11" height="12" fill="#f7fbff"/>
<rect x="249" y="215" width="12" height="12" fill="#f7fbff"/>
<rect x="261" y="215" width="11" height="12" fill="#f7fbff"/>
<rect x="272" y="215" width="11" height="12" fill="#f7fbff"/>
<rect x="283" y="215" width="11" height="12" fill="#f7fbff"/>
<rect x="294" y="215" width="11" height="12" fill="#f7fbff"/>
<rect x="305" y="215" width="12" height="12" fill="#f7fbff"/>
<rect x="317" y="215" width="11" height="12" fill="#f7fbff"/>
<rect x="328" y="215" width="11" height="12" fill="#f4f9fe"/>
<rect x="339" y="215" width="11" height="12" fill="#eef5fc"/>
<rect x="350" y="215" width="11" height="12" fill="#eaf3fb"/>
<rect x="361" y="215" width="12" height="12" fill="#d9e7f5"/>
<rect x="373" y="215" width="11" height="12" fill="#e7f1fa"/>
<rect x="384" y="215" width="11" height="12" fill="#d3e3f3"/>
<rect x="395" y="215" width="11" height="12" fill="#eaf3fb"/>
<rect x="406" y="215" width="11" height="12" fill="#f1f7fd"/>
<rect x="417" y="215" width="11" height="12" fill="#f1f7fd"/>
<rect x="428" y="215" width="12" height="12" fill="#f1f7fd"/>
<rect x="440" y="215" width="11" height="12" fill="#ecf4fb"/>
<rect x="451" y="215" width="11" height="12" fill="#eef5fc"/>
<rect x="462" y="215" width="11" height="12" fill="#f4f9fe"/>
<rect x="473" y="215" width="11" height="12" fill="#e7f1fa"/>
<rect x="484" y="215" width="12" height="12" fill="#eff6fc"/>
<rect x="496" y="215" width="11" height="12" fill="#f1f7fd"/>
<rect x="507" y="215" width="11" height="12" fill="#dfecf7"/>
<rect x="518" y="215" width="11" height="12" fill="#dfecf7"/>
<rect x="529" y="215" width="11" height="12" fill="#e4eff9"/>
<rect x="540" y="215" width="11" height="12" fill="#eef5fc"/>
<rect x="551" y="215" width="12" height="12" fill="#c1d9ed"/>
<rect x="563" y="215" width="11" height="12" fill="#cfe1f2"/>
<rect x="574" y="215" width="11" height="12" fill="#d9e7f5"/>
<rect x="585" y="215" width="11" height="12" fill="#aed1e7"/>
<rect x="596" y="215" width="11" height="12" fill="#d9e7f5"/>
<rect x="607" y="215" width="12" height="12" fill="#a3cce3"/>
<rect x="619" y="215" width="11" height="12" fill="#deebf7"/>
<rect x="630" y="215" width="11" height="12" fill="#d9e7f5"/>
<rect x="160" y="227" width="11" height="11" fill="#f7fbff"/>
<rect x="171" y="227" width="11" height="11" fill="#f7fbff"/>
<rect x="182" y="227" width="12" height="11" fill="#f7fbff"/>
<rect x="194" y="227" width="11" height="11" fill="#f7fbff"/>
<rect x="205" y="227" width="11" height="11" fill="#f7fbff"/>
<rect x="216" y="227" width="11" height="11" fill="#f7fbff"/>
<rect x="227" y="227" width="11" height="11" fill="#f7fbff"/>
<rect x="238" y="227" width="11" height="11" fill="#f7fbff"/>
<rect x="249" y="227" width="12" height="11" fill="#f7fbff"/>
<rect x="261" y="227" width="11" height="11" fill="#f7fbff"/>
<rect x="272" y="227" width="11" height="11" fill="#f7fbff"/>
<rect x="283" y="227" width="11" height="11" fill="#f7fbff"/>
<rect x="294" y="227" width="11" height="11" fill="#f7fbff"/>
<rect x="305" y="227" width="12" height="11" fill="#f7fbff"/>
<rect x="317" y="227" width="11" height="11" fill="#f7fbff"/>
<rect x="328" y="227" width="11" height="11" fill="#f5fafe"/>
<rect x="339" y="227" width="11" height="11" fill="#e4eff9"/>
<rect x="350" y="227" width="11" height="11" fill="#f1f7fd"/>
<rect x="361" y="227" width="12" height="11" fill="#e4eff9"/>
<rect x="373" y="227" width="11" height="11" fill="#e7f1fa"/>
<rect x="384" y="227" width="11" height="11" fill="#e4eff9"/>
<rect x="395" y="227" width="11" height="11" fill="#eaf3fb"/>
<rect x="406" y="227" width="11" height="11" fill="#b4d3e9"/>
<rect x="417" y="227" width="11" height="11" fill="#eaf3fb"/>
<rect x="428" y="227" width="12" height="11" fill="#ecf4fb"/>
<rect x="440" y="227" width="11" height="11" fill="#d9e7f5"/>
<rect x="451" y="227" width="11" height="11" fill="#eff6fc"/>
<rect x="462" y="227" width="11" height="11" fill="#b8d5ea"/>
<rect x="473" y="227" width="11" height="11" fill="#eff6fc"/>
<rect x="484" y="227" width="12" height="11" fill="#eaf3fb"/>
<rect x="496" y="227" width="11" height="11" fill="#eff6fc"/>
<rect x="507" y="227" width="11" height="11" fill="#e7f1fa"/>
<rect x="518" y="227" width="11" height="11" fill="#e7f1fa"/>
<rect x="529" y="227" width="11" height="11" fill="#eaf3fb"/>
<rect x="540" y="227" width="11" height="11" fill="#eef5fc"/>
<rect x="551" y="227" width="12" height="11" fill="#2575b7"/>
<rect x="563" y="227" width="11" height="11" fill="#cfe1f2"/>
<rect x="574" y="227" width="11" height="11" fill="#cfe1f2"/>
<rect x="585" y="227" width="11" height="11" fill="#d9e7f5"/>
<rect x="596" y="227" width="11" height="11" fill="#ecf4fb"/>
<rect x="607" y="227" width="12" height="11" fill="#c1d9ed"/>
<rect x="619" y="227" width="11" height="11" fill="#eaf3fb"/>
<rect x="630" y="227" width="11" height="11" fill="#dfecf7"/>
<rect x="160" y="238" width="11" height="11" fill="#f7fbff"/>
<rect x="171" y="238" width="11" height="11" fill="#f7fbff"/>
<rect x="182" y="238" width="12" height="11" fill="#f7fbff"/>
<rect x="194" y="238" width="11" height="11" fill="#f7fbff"/>
<rect x="205" y="238" width="11" height="11" fill="#f7fbff"/>
<rect x="216" y="238" width="11" height="11" fill="#f7fbff"/>
<rect x="227" y="238" width="11" height="11" fill="#f7fbff"/>
<rect x="238" y="238" width="11" height="11" fill="#f7fbff"/>
<rect x="249" y="238" width="12" height="11" fill="#f7fbff"/>
<rect x="261" y="238" width="11" height="11" fill="#f7fbff"/>
<rect x="272" y="238" width="11" height="11" fill="#f7fbff"/>
<rect x="283" y="238" width="11" height="11" fill="#f7fbff"/>
<rect x="294" y="238" width="11" height="11" fill="#f7fbff"/>
<rect x="305" y="238" width="12" height="11" fill="#f7fbff"/>
<rect x="317" y="238" width="11" height="11" fill="#f7fbff"/>
<rect x="328" y="238" width="11" height="11" fill="#f7fbff"/>
<rect x="339" y="238" width="11" height="11" fill="#f7fbff"/>
<rect x="350" y="238" width="11" height="11" fill="#f5fafe"/>
<rect x="361" y="238" width="12" height="11" fill="#f5fafe"/>
<rect x="373" y="238" width="11" height="11" fill="#f7fbff"/>
<rect x="384" y="238" width="11" height="11" fill="#deebf7"/>
<rect x="395" y="238" width="11" height="11" fill="#f1f7fd"/>
<rect x="406" y="238" width="11" height="11" fill="#99c7e0"/>
<rect x="417" y="238" width="11" height="11" fill="#e4eff9"/>
<rect x="428" y="238" width="12" height="11" fill="#eff6fc"/>
<rect x="440" y="238" width="11" height="11" fill="#d1e2f3"/>
<rect x="451" y="238" width="11" height="11" fill="#eef5fc"/>
<rect x="462" y="238" width="11" height="11" fill="#8cc0dd"/>
<rect x="473" y="238" width="11" height="11" fill="#eaf3fb"/>
<rect x="484" y="238" width="12" height="11" fill="#eef5fc"/>
<rect x="496" y="238" width="11" height="11" fill="#f2f8fd"/>
<rect x="507" y="238" width="11" height="11" fill="#eff6fc"/>
<rect x="518" y="238" width="11" height="11" fill="#eff6fc"/>
<rect x="529" y="238" width="11" height="11" fill="#eaf3fb"/>
<rect x="540" y="238" width="11" height="11" fill="#eff6fc"/>
<rect x="551" y="238" width="12" height="11" fill="#08458a"/>
<rect x="563" y="238" width="11" height="11" fill="#cfe1f2"/>
<rect x="574" y="238" width="11" height="11" fill="#cadef0"/>
<rect x="585" y="238" width="11" height="11" fill="#deebf7"/>
<rect x="596" y="238" width="11" height="11" fill="#deebf7"/>
<rect x="607" y="238" width="12" height="11" fill="#aed1e7"/>
<rect x="619" y="238" width="11" height="11" fill="#e3eef8"/>
<rect x="630" y="238" width="11" height="11" fill="#dfecf7"/>
<rect x="160" y="249" width="11" height="11" fill="#f7fbff"/>
<rect x="171" y="249" width="11" height="11" fill="#f7fbff"/>
<rect x="182" y="249" width="12" height="11" fill="#f7fbff"/>
<rect x="194" y="249" width="11" height="11" fill="#f7fbff"/>
<rect x="205" y="249" width="11" height="11" fill="#f7fbff"/>
<rect x="216" y="249" width="11" height="11" fill="#f7fbff"/>
<rect x="227" y="249" width="11" height="11" fill="#f7fbff"/>
<rect x="238" y="249" width="11" height="11" fill="#f7fbff"/>
<rect x="249" y="249" width="12" height="11" fill="#f7fbff"/>
<rect x="261" y="249" width="11" height="11" fill="#f7fbff"/>
<rect x="272" y="249" width="11" height="11" fill="#f7fbff"/>
<rect x="283" y="249" width="11" height="11" fill="#f7fbff"/>
<rect x="294" y="249" width="11" height="11" fill="#f7fbff"/>
<rect x="305" y="249" width="12" height="11" fill="#f7fbff"/>
<rect x="317" y="249" width="11" height="11" fill="#f7fbff"/>
<rect x="328" y="249" width="11" height="11" fill="#f7fbff"/>
<rect x="339" y="249" width="11" height="11" fill="#f7fbff"/>
<rect x="350" y="249" width="11" height="11" fill="#f7fbff"/>
<rect x="361" y="249" width="12" height="11" fill="#f7fbff"/>
<rect x="373" y="249" width="11" height="11" fill="#f7fbff"/>
<rect x="384" y="249" width="11" height="11" fill="#ecf4fb"/>
<rect x="395" y="249" width="11" height="11" fill="#f2f8fd"/>
<rect x="406" y="249" width="11" height="11" fill="#a3cce3"/>
<rect x="417" y="249" width="11" height="11" fill="#eaf3fb"/>
<rect x="428" y="249" width="12" height="11" fill="#f1f7fd"/>
<rect x="440" y="249" width="11" height="11" fill="#aed1e7"/>
<rect x="451" y="249" width="11" height="11" fill="#f2f8fd"/>
<rect x="462" y="249" width="11" height="11" fill="#58a1cf"/>
<rect x="473" y="249" width="11" height="11" fill="#f1f7fd"/>
<rect x="484" y="249" width="12" height="11" fill="#f1f7fd"/>
<rect x="496" y="249" width="11" height="11" fill="#f4f9fe"/>
<rect x="507" y="249" width="11" height="11" fill="#eff6fc"/>
<rect x="518" y="249" width="11" height="11" fill="#eff6fc"/>
<rect x="529" y="249" width="11" height="11" fill="#eff6fc"/>
<rect x="540" y="249" width="11" height="11" fill="#f2f8fd"/>
<rect x="551" y="249" width="12" height="11" fill="#0c56a0"/>
<rect x="563" y="249" width="11" height="11" fill="#ecf4fb"/>
<rect x="574" y="249" width="11" height="11" fill="#aed1e7"/>
<rect x="585" y="249" width="11" height="11" fill="#eff6fc"/>
<rect x="596" y="249" width="11" height="11" fill="#f1f7fd"/>
<rect x="607" y="249" width="12" height="11" fill="#cadef0"/>
<rect x="619" y="249" width="11" height="11" fill="#eaf3fb"/>
<rect x="630" y="249" width="11" height="11" fill="#e7f1fa"/>
<rect x="160" y="260" width="11" height="11" fill="#f7fbff"/>
<rect x="171" y="260" width="11" height="11" fill="#f7fbff"/>
<rect x="182" y="260" width="12" height="11" fill="#f7fbff"/>
<rect x="194" y="260" width="11" height="11" fill="#f7fbff"/>
<rect x="205" y="260" width="11" height="11" fill="#f7fbff"/>
<rect x="216" y="260" width="11" height="11" fill="#f7fbff"/>
<rect x="227" y="260" width="11" height="11" fill="#f7fbff"/>
<rect x="238" y="260" width="11" height="11" fill="#f7fbff"/>
<rect x="249" y="260" width="12" height="11" fill="#f7fbff"/>
<rect x="261" y="260" width="11" height="11" fill="#f7fbff"/>
<rect x="272" y="260" width="11" height="11" fill="#f7fbff"/>
<rect x="283" y="260" width="11" height="11" fill="#f7fbff"/>
<rect x="294" y="260" width="11" height="11" fill="#f7fbff"/>
<rect x="305" y="260" width="12" height="11" fill="#f7fbff"/>
<rect x="317" y="260" width="11" height="11" fill="#f7fbff"/>
<rect x="328" y="260" width="11" height="11" fill="#f7fbff"/>
<rect x="339" y="260" width="11" height="11" fill="#f7fbff"/>
<rect x="350" y="260" width="11" height="11" fill="#f7fbff"/>
<rect x="361" y="260" width="12" height="11" fill="#f7fbff"/>
<rect x="373" y="260" width="11" height="11" fill="#f7fbff"/>
<rect x="384" y="260" width="11" height="11" fill="#f4f9fe"/>
<rect x="395" y="260" width="11" height="11" fill="#eaf3fb"/>
<rect x="406" y="260" width="11" height="11" fill="#b4d3e9"/>
<rect x="417" y="260" width="11" height="11" fill="#eaf3fb"/>
<rect x="428" y="260" width="12" height="11" fill="#eaf3fb"/>
<rect x="440" y="260" width="11" height="11" fill="#a3cce3"/>
<rect x="451" y="260" width="11" height="11" fill="#e4eff9"/>
<rect x="462" y="260" width="11" height="11" fill="#4896c8"/>
<rect x="473" y="260" width="11" height="11" fill="#deebf7"/>
<rect x="484" y="260" width="12" height="11" fill="#deebf7"/>
<rect x="496" y="260" width="11" height="11" fill="#dfecf7"/>
<rect x="507" y="260" width="11" height="11" fill="#ecf4fb"/>
<rect x="518" y="260" width="11" height="11" fill="#ecf4fb"/>
<rect x="529" y="260" width="11" height="11" fill="#d9e7f5"/>
<rect x="540" y="260" width="11" height="11" fill="#ecf4fb"/>
<rect x="551" y="260" width="12" height="11" fill="#115ca5"/>
<rect x="563" y="260" width="11" height="11" fill="#ecf4fb"/>
<rect x="574" y="260" width="11" height="11" fill="#99c7e0"/>
<rect x="585" y="260" width="11" height="11" fill="#eef5fc"/>
<rect x="596" y="260" width="11" height="11" fill="#deebf7"/>
<rect x="607" y="260" width="12" height="11" fill="#c2d9ee"/>
<rect x="619" y="260" width="11" height="11" fill="#e7f1fa"/>
<rect x="630" y="260" width="11" height="11" fill="#e7f1fa"/>
<rect x="160" y="271" width="11" height="12" fill="#f7fbff"/>
<rect x="171" y="271" width="11" height="12" fill="#f7fbff"/>
<rect x="182" y="271" width="12" height="12" fill="#f7fbff"/>
<rect x="194" y="271" width="11" height="12" fill="#f7fbff"/>
<rect x="205" y="271" width="11" height="12" fill="#f7fbff"/>
<rect x="216" y="271" width="11" height="12" fill="#f7fbff"/>
<rect x="227" y="271" width="11" height="12" fill="#f7fbff"/>
<rect x="238" y="271" width="11" height="12" fill="#f7fbff"/>
<rect x="249" y="271" width="12" height="12" fill="#f7fbff"/>
<rect x="261" y="271" width="11" height="12" fill="#f7fbff"/>
<rect x="272" y="271" width="11" height="12" fill="#f7fbff"/>
<rect x="283" y="271" width="11" height="12" fill="#f7fbff"/>
<rect x="294" y="271" width="11" height="12" fill="#f7fbff"/>
<rect x="305" y="271" width="12" height="12" fill="#f7fbff"/>
<rect x="317" y="271" width="11" height="12" fill="#f7fbff"/>
<rect x="328" y="271" width="11" height="12" fill="#f7fbff"/>
<rect x="339" y="271" width="11" height="12" fill="#f7fbff"/>
<rect x="350" y="271" width="11" height="12" fill="#f7fbff"/>
<rect x="361" y="271" width="12" height="12" fill="#f7fbff"/>
<rect x="373" y="271" width="11" height="12" fill="#f7fbff"/>
<rect x="384" y="271" width="11" height="12" fill="#ecf4fb"/>
<rect x="395" y="271" width="11" height="12" fill="#f1f7fd"/>
<rect x="406" y="271" width="11" height="12" fill="#a3cce3"/>
<rect x="417" y="271" width="11" height="12" fill="#e7f1fa"/>
<rect x="428" y="271" width="12" height="12" fill="#eff6fc"/>
<rect x="440" y="271" width="11" height="12" fill="#b4d3e9"/>
<rect x="451" y="271" width="11" height="12" fill="#eaf3fb"/>
<rect x="462" y="271" width="11" height="12" fill="#58a1cf"/>
<rect x="473" y="271" width="11" height="12" fill="#eaf3fb"/>
<rect x="484" y="271" width="12" height="12" fill="#ecf4fb"/>
<rect x="496" y="271" width="11" height="12" fill="#e7f1fa"/>
<rect x="507" y="271" width="11" height="12" fill="#f1f7fd"/>
<rect x="518" y="271" width="11" height="12" fill="#f1f7fd"/>
<rect x="529" y="271" width="11" height="12" fill="#deebf7"/>
<rect x="540" y="271" width="11" height="12" fill="#f2f8fd"/>
<rect x="551" y="271" width="12" height="12" fill="#084b93"/>
<rect x="563" y="271" width="11" height="12" fill="#e7f1fa"/>
<rect x="574" y="271" width="11" height="12" fill="#aed1e7"/>
<rect x="585" y="271" width="11" height="12" fill="#f1f7fd"/>
<rect x="596" y="271" width="11" height="12" fill="#dfecf7"/>
<rect x="607" y="271" width="12" height="12" fill="#c2d9ee"/>
<rect x="619" y="271" width="11" height="12" fill="#e7f1fa"/>
<rect x="630" y="271" width="11" height="12" fill="#e7f1fa"/>
<rect x="160" y="283" width="11" height="11" fill="#f7fbff"/>
<rect x="171" y="283" width="11" height="11" fill="#f7fbff"/>
<rect x="182" y="283" width="12" height="11" fill="#f7fbff"/>
<rect x="194" y="283" width="11" height="11" fill="#f7fbff"/>
<rect x="205" y="283" width="11" height="11" fill="#f7fbff"/>
<rect x="216" y="283" width="11" height="11" fill="#f7fbff"/>
<rect x="227" y="283" width="11" height="11" fill="#f7fbff"/>
<rect x="238" y="283" width="11" height="11" fill="#f7fbff"/>
<rect x="249" y="283" width="12" height="11" fill="#f7fbff"/>
<rect x="261" y="283" width="11" height="11" fill="#f7fbff"/>
<rect x="272" y="283" width="11" height="11" fill="#f7fbff"/>
<rect x="283" y="283" width="11" height="11" fill="#f7fbff"/>
<rect x="294" y="283" width="11" height="11" fill="#f7fbff"/>
<rect x="305" y="283" width="12" height="11" fill="#f7fbff"/>
<rect x="317" y="283" width="11" height="11" fill="#f7fbff"/>
<rect x="328" y="283" width="11" height="11" fill="#f7fbff"/>
<rect x="339" y="283" width="11" height="11" fill="#f7fbff"/>
<rect x="350" y="283" width="11" height="11" fill="#f7fbff"/>
<rect x="361" y="283" width="12" height="11" fill="#f7fbff"/>
<rect x="373" y="283" width="11" height="11" fill="#f7fbff"/>
<rect x="384" y="283" width="11" height="11" fill="#f5fafe"/>
<rect x="395" y="283" width="11" height="11" fill="#f5fafe"/>
<rect x="406" y="283" width="11" height="11" fill="#f4f9fe"/>
<rect x="417" y="283" width="11" height="11" fill="#f5fafe"/>
<rect x="428" y="283" width="12" height="11" fill="#f5fafe"/>
<rect x="440" y="283" width="11" height="11" fill="#f5fafe"/>
<rect x="451" y="283" width="11" height="11" fill="#f5fafe"/>
<rect x="462" y="283" width="11" height="11" fill="#f2f8fd"/>
<rect x="473" y="283" width="11" height="11" fill="#f5fafe"/>
<rect x="484" y="283" width="12" height="11" fill="#f5fafe"/>
<rect x="496" y="283" width="11" height="11" fill="#f5fafe"/>
<rect x="507" y="283" width="11" height="11" fill="#f5fafe"/>
<rect x="518" y="283" width="11" height="11" fill="#f5fafe"/>
<rect x="529" y="283" width="11" height="11" fill="#f5fafe"/>
<rect x="540" y="283" width="11" height="11" fill="#f5fafe"/>
<rect x="551" y="283" width="12" height="11" fill="#f2f8fd"/>
<rect x="563" y="283" width="11" height="11" fill="#d9e7f5"/>
<rect x="574" y="283" width="11" height="11" fill="#f5fafe"/>
<rect x="585" y="283" width="11" height="11" fill="#cadef0"/>
<rect x="596" y="283" width="11" height="11" fill="#f4f9fe"/>
<rect x="607" y="283" width="12" height="11" fill="#d9e7f5"/>
<rect x="619" y="283" width="11" height="11" fill="#eff6fc"/>
<rect x="630" y="283" width="11" height="11" fill="#ecf4fb"/>
<rect x="160" y="294" width="11" height="11" fill="#f7fbff"/>
<rect x="171" y="294" width="11" height="11" fill="#f7fbff"/>
<rect x="182" y="294" width="12" height="11" fill="#f7fbff"/>
<rect x="194" y="294" width="11" height="11" fill="#f7fbff"/>
<rect x="205" y="294" width="11" height="11" fill="#f7fbff"/>
<rect x="216" y="294" width="11" height="11" fill="#f7fbff"/>
<rect x="227" y="294" width="11" height="11" fill="#f7fbff"/>
<rect x="238" y="294" width="11" height="11" fill="#f7fbff"/>
<rect x="249" y="294" width="12" height="11" fill="#f7fbff"/>
<rect x="261" y="294" width="11" height="11" fill="#f7fbff"/>
<rect x="272" y="294" width="11" height="11" fill="#f7fbff"/>
<rect x="283" y="294" width="11" height="11" fill="#f7fbff"/>
<rect x="294" y="294" width="11" height="11" fill="#f7fbff"/>
<rect x="305" y="294" width="12" height="11" fill="#f7fbff"/>
<rect x="317" y="294" width="11" height="11" fill="#f7fbff"/>
<rect x="328" y="294" width="11" height="11" fill="#f7fbff"/>
<rect x="339" y="294" width="11" height="11" fill="#f7fbff"/>
<rect x="350" y="294" width="11" height="11" fill="#f7fbff"/>
<rect x="361" y="294" width="12" height="11" fill="#f7fbff"/>
<rect x="373" y="294" width="11" height="11" fill="#f7fbff"/>
<rect x="384" y="294" width="11" height="11" fill="#f7fbff"/>
<rect x="395" y="294" width="11" height="11" fill="#f7fbff"/>
<rect x="406" y="294" width="11" height="11" fill="#d1e2f3"/>
<rect x="417" y="294" width="11" height="11" fill="#eff6fc"/>
<rect x="428" y="294" width="12" height="11" fill="#f5fafe"/>
<rect x="440" y="294" width="11" height="11" fill="#dfecf7"/>
<rect x="451" y="294" width="11" height="11" fill="#f5fafe"/>
<rect x="462" y="294" width="11" height="11" fill="#cadef0"/>
<rect x="473" y="294" width="11" height="11" fill="#f5fafe"/>
<rect x="484" y="294" width="12" height="11" fill="#f5fafe"/>
<rect x="496" y="294" width="11" height="11" fill="#f5fafe"/>
<rect x="507" y="294" width="11" height="11" fill="#f5fafe"/>
<rect x="518" y="294" width="11" height="11" fill="#f5fafe"/>
<rect x="529" y="294" width="11" height="11" fill="#f5fafe"/>
<rect x="540" y="294" width="11" height="11" fill="#f5fafe"/>
<rect x="551" y="294" width="12" height="11" fill="#c2d9ee"/>
<rect x="563" y="294" width="11" height="11" fill="#e4eff9"/>
<rect x="574" y="294" width="11" height="11" fill="#d1e2f3"/>
<rect x="585" y="294" width="11" height="11" fill="#99c7e0"/>
<rect x="596" y="294" width="11" height="11" fill="#f5fafe"/>
<rect x="607" y="294" width="12" height="11" fill="#cadef0"/>
<rect x="619" y="294" width="11" height="11" fill="#e7f1fa"/>
<rect x="630" y="294" width="11" height="11" fill="#dfecf7"/>
<rect x="160" y="305" width="11" height="11" fill="#f7fbff"/>
<rect x="171" y="305" width="11" height="11" fill="#f7fbff"/>
<rect x="182" y="305" width="12" height="11" fill="#f7fbff"/>
<rect x="194" y="305" width="11" height="11" fill="#f7fbff"/>
<rect x="205" y="305" width="11" height="11" fill="#f7fbff"/>
<rect x="216" y="305" width="11" height="11" fill="#f7fbff"/>
<rect x="227" y="305" width="11" height="11" fill="#f7fbff"/>
<rect x="238" y="305" width="11" height="11" fill="#f7fbff"/>
<rect x="249" y="305" width="12" height="11" fill="#f7fbff"/>
<rect x="261" y="305" width="11" height="11" fill="#f7fbff"/>
<rect x="272" y="305" width="11" height="11" fill="#f7fbff"/>
<rect x="283" y="305" width="11" height="11" fill="#f7fbff"/>
<rect x="294" y="305" width="11" height="11" fill="#f7fbff"/>
<rect x="305" y="305" width="12" height="11" fill="#f7fbff"/>
<rect x="317" y="305" width="11" height="11" fill="#f7fbff"/>
<rect x="328" y="305" width="11" height="11" fill="#f7fbff"/>
<rect x="339" y="305" width="11" height="11" fill="#f7fbff"/>
<rect x="350" y="305" width="11" height="11" fill="#f7fbff"/>
<rect x="361" y="305" width="12" height="11" fill="#f7fbff"/>
<rect x="373" y="305" width="11" height="11" fill="#f7fbff"/>
<rect x="384" y="305" width="11" height="11" fill="#f7fbff"/>
<rect x="395" y="305" width="11" height="11" fill="#f7fbff"/>
<rect x="406" y="305" width="11" height="11" fill="#f7fbff"/>
<rect x="417" y="305" width="11" height="11" fill="#f7fbff"/>
<rect x="428" y="305" width="12" height="11" fill="#e4eff9"/>
<rect x="440" y="305" width="11" height="11" fill="#f5fafe"/>
<rect x="451" y="305" width="11" height="11" fill="#f4f9fe"/>
<rect x="462" y="305" width="11" height="11" fill="#e4eff9"/>
<rect x="473" y="305" width="11" height="11" fill="#eff6fc"/>
<rect x="484" y="305" width="12" height="11" fill="#d9e7f5"/>
<rect x="496" y="305" width="11" height="11" fill="#d9e7f5"/>
<rect x="507" y="305" width="11" height="11" fill="#c8dcf0"/>
<rect x="518" y="305" width="11" height="11" fill="#d0e1f2"/>
<rect x="529" y="305" width="11" height="11" fill="#ecf4fb"/>
<rect x="540" y="305" width="11" height="11" fill="#f4f9fe"/>
<rect x="551" y="305" width="12" height="11" fill="#f5fafe"/>
<rect x="563" y="305" width="11" height="11" fill="#f5fafe"/>
<rect x="574" y="305" width="11" height="11" fill="#f5fafe"/>
<rect x="585" y="305" width="11" height="11" fill="#99c7e0"/>
<rect x="596" y="305" width="11" height="11" fill="#f4f9fe"/>
<rect x="607" y="305" width="12" height="11" fill="#74b3d8"/>
<rect x="619" y="305" width="11" height="11" fill="#a3cce3"/>
<rect x="630" y="305" width="11" height="11" fill="#aed1e7"/>
<rect x="160" y="316" width="11" height="11" fill="#f7fbff"/>
<rect x="171" y="316" width="11" height="11" fill="#f7fbff"/>
<rect x="182" y="316" width="12" height="11" fill="#f7fbff"/>
<rect x="194" y="316" width="11" height="11" fill="#f7fbff"/>
<rect x="205" y="316" width="11" height="11" fill="#f7fbff"/>
<rect x="216" y="316" width="11" height="11" fill="#f7fbff"/>
<rect x="227" y="316" width="11" height="11" fill="#f7fbff"/>
<rect x="238" y="316" width="11" height="11" fill="#f7fbff"/>
<rect x="249" y="316" width="12" height="11" fill="#f7fbff"/>
<rect x="261" y="316" width="11" height="11" fill="#f7fbff"/>
<rect x="272" y="316" width="11" height="11" fill="#f7fbff"/>
<rect x="283" y="316" width="11" height="11" fill="#f7fbff"/>
<rect x="294" y="316" width="11" height="11" fill="#f7fbff"/>
<rect x="305" y="316" width="12" height="11" fill="#f7fbff"/>
<rect x="317" y="316" width="11" height="11" fill="#f7fbff"/>
<rect x="328" y="316" width="11" height="11" fill="#f7fbff"/>
<rect x="339" y="316" width="11" height="11" fill="#f7fbff"/>
<rect x="350" y="316" width="11" height="11" fill="#f7fbff"/>
<rect x="361" y="316" width="12" height="11" fill="#f7fbff"/>
<rect x="373" y="316" width="11" height="11" fill="#f7fbff"/>
<rect x="384" y="316" width="11" height="11" fill="#f7fbff"/>
<rect x="395" y="316" width="11" height="11" fill="#f7fbff"/>
<rect x="406" y="316" width="11" height="11" fill="#f7fbff"/>
<rect x="417" y="316" width="11" height="11" fill="#f7fbff"/>
<rect x="428" y="316" width="12" height="11" fill="#eff6fc"/>
<rect x="440" y="316" width="11" height="11" fill="#f5fafe"/>
<rect x="451" y="316" width="11" height="11" fill="#e7f1fa"/>
<rect x="462" y="316" width="11" height="11" fill="#f4f9fe"/>
<rect x="473" y="316" width="11" height="11" fill="#ecf4fb"/>
<rect x="484" y="316" width="12" height="11" fill="#ecf4fb"/>
<rect x="496" y="316" width="11" height="11" fill="#ecf4fb"/>
<rect x="507" y="316" width="11" height="11" fill="#eff6fc"/>
<rect x="518" y="316" width="11" height="11" fill="#eff6fc"/>
<rect x="529" y="316" width="11" height="11" fill="#ecf4fb"/>
<rect x="540" y="316" width="11" height="11" fill="#eef5fc"/>
<rect x="551" y="316" width="12" height="11" fill="#f4f9fe"/>
<rect x="563" y="316" width="11" height="11" fill="#f5fafe"/>
<rect x="574" y="316" width="11" height="11" fill="#f4f9fe"/>
<rect x="585" y="316" width="11" height="11" fill="#d9e7f5"/>
<rect x="596" y="316" width="11" height="11" fill="#ecf4fb"/>
<rect x="607" y="316" width="12" height="11" fill="#99c7e0"/>
<rect x="619" y="316" width="11" height="11" fill="#e7f1fa"/>
<rect x="630" y="316" width="11" height="11" fill="#dfecf7"/>
<rect x="160" y="327" width="11" height="12" fill="#f7fbff"/>
<rect x="171" y="327" width="11" height="12" fill="#f7fbff"/>
<rect x="182" y="327" width="12" height="12" fill="#f7fbff"/>
<rect x="194" y="327" width="11" height="12" fill="#f7fbff"/>
<rect x="205" y="327" width="11" height="12" fill="#f7fbff"/>
<rect x="216" y="327" width="11" height="12" fill="#f7fbff"/>
<rect x="227" y="327" width="11" height="12" fill="#f7fbff"/>
<rect x="238" y="327" width="11" height="12" fill="#f7fbff"/>
<rect x="249" y="327" width="12" height="12" fill="#f7fbff"/>
<rect x="261" y="327" width="11" height="12" fill="#f7fbff"/>
<rect x="272" y="327" width="11" height="12" fill="#f7fbff"/>
<rect x="283" y="327" width="11" height="12" fill="#f7fbff"/>
<rect x="294" y="327" width="11" height="12" fill="#f7fbff"/>
<rect x="305" y="327" width="12" height="12" fill="#f7fbff"/>
<rect x="317" y="327" width="11" height="12" fill="#f7fbff"/>
<rect x="328" y="327" width="11" height="12" fill="#f7fbff"/>
<rect x="339" y="327" width="11" height="12" fill="#f7fbff"/>
<rect x="350" y="327" width="11" height="12" fill="#f7fbff"/>
<rect x="361" y="327" width="12" height="12" fill="#f7fbff"/>
<rect x="373" y="327" width="11" height="12" fill="#f7fbff"/>
<rect x="384" y="327" width="11" height="12" fill="#f7fbff"/>
<rect x="395" y="327" width="11" height="12" fill="#f7fbff"/>
<rect x="406" y="327" width="11" height="12" fill="#f7fbff"/>
<rect x="417" y="327" width="11" height="12" fill="#f7fbff"/>
<rect x="428" y="327" width="12" height="12" fill="#f7fbff"/>
<rect x="440" y="327" width="11" height="12" fill="#eef5fc"/>
<rect x="451" y="327" width="11" height="12" fill="#f5fafe"/>
<rect x="462" y="327" width="11" height="12" fill="#dfecf7"/>
<rect x="473" y="327" width="11" height="12" fill="#f5fafe"/>
<rect x="484" y="327" width="12" height="12" fill="#f5fafe"/>
<rect x="496" y="327" width="11" height="12" fill="#f5fafe"/>
<rect x="507" y="327" width="11" height="12" fill="#f5fafe"/>
<rect x="518" y="327" width="11" height="12" fill="#f5fafe"/>
<rect x="529" y="327" width="11" height="12" fill="#f5fafe"/>
<rect x="540" y="327" width="11" height="12" fill="#f5fafe"/>
<rect x="551" y="327" width="12" height="12" fill="#eff6fc"/>
<rect x="563" y="327" width="11" height="12" fill="#e4eff9"/>
<rect x="574" y="327" width="11" height="12" fill="#e4eff9"/>
<rect x="585" y="327" width="11" height="12" fill="#99c7e0"/>
<rect x="596" y="327" width="11" height="12" fill="#f5fafe"/>
<rect x="607" y="327" width="12" height="12" fill="#c2d9ee"/>
<rect x="619" y="327" width="11" height="12" fill="#eaf3fb"/>
<rect x="630" y="327" width="11" height="12" fill="#dfecf7"/>
<rect x="160" y="339" width="11" height="11" fill="#f7fbff"/>
<rect x="171" y="339" width="11" height="11" fill="#f7fbff"/>
<rect x="182" y="339" width="12" height="11" fill="#f7fbff"/>
<rect x="194" y="339" width="11" height="11" fill="#f7fbff"/>
<rect x="205" y="339" width="11" height="11" fill="#f7fbff"/>
<rect x="216" y="339" width="11" height="11" fill="#f7fbff"/>
<rect x="227" y="339" width="11" height="11" fill="#f7fbff"/>
<rect x="238" y="339" width="11" height="11" fill="#f7fbff"/>
<rect x="249" y="339" width="12" height="11" fill="#f7fbff"/>
<rect x="261" y="339" width="11" height="11" fill="#f7fbff"/>
<rect x="272" y="339" width="11" height="11" fill="#f7fbff"/>
<rect x="283" y="339" width="11" height="11" fill="#f7fbff"/>
<rect x="294" y="339" width="11" height="11" fill="#f7fbff"/>
<rect x="305" y="339" width="12" height="11" fill="#f7fbff"/>
<rect x="317" y="339" width="11" height="11" fill="#f7fbff"/>
<rect x="328" y="339" width="11" height="11" fill="#f7fbff"/>
<rect x="339" y="339" width="11" height="11" fill="#f7fbff"/>
<rect x="350" y="339" width="11" height="11" fill="#f7fbff"/>
<rect x="361" y="339" width="12" height="11" fill="#f7fbff"/>
<rect x="373" y="339" width="11" height="11" fill="#f7fbff"/>
<rect x="384" y="339" width="11" height="11" fill="#f7fbff"/>
<rect x="395" y="339" width="11" height="11" fill="#f7fbff"/>
<rect x="406" y="339" width="11" height="11" fill="#f7fbff"/>
<rect x="417" y="339" width="11" height="11" fill="#f7fbff"/>
<rect x="428" y="339" width="12" height="11" fill="#f7fbff"/>
<rect x="440" y="339" width="11" height="11" fill="#f7fbff"/>
<rect x="451" y="339" width="11" height="11" fill="#f4f9fe"/>
<rect x="462" y="339" width="11" height="11" fill="#f5fafe"/>
<rect x="473" y="339" width="11" height="11" fill="#eff6fc"/>
<rect x="484" y="339" width="12" height="11" fill="#e7f1fa"/>
<rect x="496" y="339" width="11" height="11" fill="#e7f1fa"/>
<rect x="507" y="339" width="11" height="11" fill="#d9e7f5"/>
<rect x="518" y="339" width="11" height="11" fill="#dfecf7"/>
<rect x="529" y="339" width="11" height="11" fill="#eff6fc"/>
<rect x="540" y="339" width="11" height="11" fill="#f4f9fe"/>
<rect x="551" y="339" width="12" height="11" fill="#dfecf7"/>
<rect x="563" y="339" width="11" height="11" fill="#f5fafe"/>
<rect x="574" y="339" width="11" height="11" fill="#f5fafe"/>
<rect x="585" y="339" width="11" height="11" fill="#f5fafe"/>
<rect x="596" y="339" width="11" height="11" fill="#f2f8fd"/>
<rect x="607" y="339" width="12" height="11" fill="#eaf3fb"/>
<rect x="619" y="339" width="11" height="11" fill="#cadef0"/>
<rect x="630" y="339" width="11" height="11" fill="#e4eff9"/>
<rect x="160" y="350" width="11" height="11" fill="#f7fbff"/>
<rect x="171" y="350" width="11" height="11" fill="#f7fbff"/>
<rect x="182" y="350" width="12" height="11" fill="#f7fbff"/>
<rect x="194" y="350" width="11" height="11" fill="#f7fbff"/>
<rect x="205" y="350" width="11" height="11" fill="#f7fbff"/>
<rect x="216" y="350" width="11" height="11" fill="#f7fbff"/>
<rect x="227" y="350" width="11" height="11" fill="#f7fbff"/>
<rect x="238" y="350" width="11" height="11" fill="#f7fbff"/>
<rect x="249" y="350" width="12" height="11" fill="#f7fbff"/>
<rect x="261" y="350" width="11" height="11" fill="#f7fbff"/>
<rect x="272" y="350" width="11" height="11" fill="#f7fbff"/>
<rect x="283" y="350" width="11" height="11" fill="#f7fbff"/>
<rect x="294" y="350" width="11" height="11" fill="#f7fbff"/>
<rect x="305" y="350" width="12" height="11" fill="#f7fbff"/>
<rect x="317" y="350" width="11" height="11" fill="#f7fbff"/>
<rect x="328" y="350" width="11" height="11" fill="#f7fbff"/>
<rect x="339" y="350" width="11" height="11" fill="#f7fbff"/>
<rect x="350" y="350" width="11" height="11" fill="#f7fbff"/>
<rect x="361" y="350" width="12" height="11" fill="#f7fbff"/>
<rect x="373" y="350" width="11" height="11" fill="#f7fbff"/>
<rect x="384" y="350" width="11" height="11" fill="#f7fbff"/>
<rect x="395" y="350" width="11" height="11" fill="#f7fbff"/>
<rect x="406" y="350" width="11" height="11" fill="#f7fbff"/>
<rect x="417" y="350" width="11" height="11" fill="#f7fbff"/>
<rect x="428" y="350" width="12" height="11" fill="#f7fbff"/>
<rect x="440" y="350" width="11" height="11" fill="#f7fbff"/>
<rect x="451" y="350" width="11" height="11" fill="#f7fbff"/>
<rect x="462" y="350" width="11" height="11" fill="#e7f1fa"/>
<rect x="473" y="350" width="11" height="11" fill="#f5fafe"/>
<rect x="484" y="350" width="12" height="11" fill="#f5fafe"/>
<rect x="496" y="350" width="11" height="11" fill="#f5fafe"/>
<rect x="507" y="350" width="11" height="11" fill="#f5fafe"/>
<rect x="518" y="350" width="11" height="11" fill="#f5fafe"/>
<rect x="529" y="350" width="11" height="11" fill="#f5fafe"/>
<rect x="540" y="350" width="11" height="11" fill="#f5fafe"/>
<rect x="551" y="350" width="12" height="11" fill="#e7f1fa"/>
<rect x="563" y="350" width="11" height="11" fill="#e7f1fa"/>
<rect x="574" y="350" width="11" height="11" fill="#eff6fc"/>
<rect x="585" y="350" width="11" height="11" fill="#87bddc"/>
<rect x="596" y="350" width="11" height="11" fill="#f5fafe"/>
<rect x="607" y="350" width="12" height="11" fill="#aed1e7"/>
<rect x="619" y="350" width="11" height="11" fill="#d1e2f3"/>
<rect x="630" y="350" width="11" height="11" fill="#d1e2f3"/>
<rect x="160" y="361" width="11" height="11" fill="#f7fbff"/>
<rect x="171" y="361" width="11" height="11" fill="#f7fbff"/>
<rect x="182" y="361" width="12" height="11" fill="#f7fbff"/>
<rect x="194" y="361" width="11" height="11" fill="#f7fbff"/>
<rect x="205" y="361" width="11" height="11" fill="#f7fbff"/>
<rect x="216" y="361" width="11" height="11" fill="#f7fbff"/>
<rect x="227" y="361" width="11" height="11" fill="#f7fbff"/>
<rect x="238" y="361" width="11" height="11" fill="#f7fbff"/>
<rect x="249" y="361" width="12" height="11" fill="#f7fbff"/>
<rect x="261" y="361" width="11" height="11" fill="#f7fbff"/>
<rect x="272" y="361" width="11" height="11" fill="#f7fbff"/>
<rect x="283" y="361" width="11" height="11" fill="#f7fbff"/>
<rect x="294" y="361" width="11" height="11" fill="#f7fbff"/>
<rect x="305" y="361" width="12" height="11" fill="#f7fbff"/>
<rect x="317" y="361" width="11" height="11" fill="#f7fbff"/>
<rect x="328" y="361" width="11" height="11" fill="#f7fbff"/>
<rect x="339" y="361" width="11" height="11" fill="#f7fbff"/>
<rect x="350" y="361" width="11" height="11" fill="#f7fbff"/>
<rect x="361" y="361" width="12" height="11" fill="#f7fbff"/>
<rect x="373" y="361" width="11" height="11" fill="#f7fbff"/>
<rect x="384" y="361" width="11" height="11" fill="#f7fbff"/>
<rect x="395" y="361" width="11" height="11" fill="#f7fbff"/>
<rect x="406" y="361" width="11" height="11" fill="#f7fbff"/>
<rect x="417" y="361" width="11" height="11" fill="#f7fbff"/>
<rect x="428" y="361" width="12" height="11" fill="#f7fbff"/>
<rect x="440" y="361" width="11" height="11" fill="#f7fbff"/>
<rect x="451" y="361" width="11" height="11" fill="#f7fbff"/>
<rect x="462" y="361" width="11" height="11" fill="#f7fbff"/>
<rect x="473" y="361" width="11" height="11" fill="#dfecf7"/>
<rect x="484" y="361" width="12" height="11" fill="#eef5fc"/>
<rect x="496" y="361" width="11" height="11" fill="#cfe1f2"/>
<rect x="507" y="361" width="11" height="11" fill="#aed1e7"/>
<rect x="518" y="361" width="11" height="11" fill="#cadef0"/>
<rect x="529" y="361" width="11" height="11" fill="#f4f9fe"/>
<rect x="540" y="361" width="11" height="11" fill="#f1f7fd"/>
<rect x="551" y="361" width="12" height="11" fill="#f2f8fd"/>
<rect x="563" y="361" width="11" height="11" fill="#dfecf7"/>
<rect x="574" y="361" width="11" height="11" fill="#f4f9fe"/>
<rect x="585" y="361" width="11" height="11" fill="#f5fafe"/>
<rect x="596" y="361" width="11" height="11" fill="#e7f1fa"/>
<rect x="607" y="361" width="12" height="11" fill="#dfecf7"/>
<rect x="619" y="361" width="11" height="11" fill="#cadef0"/>
<rect x="630" y="361" width="11" height="11" fill="#f5fafe"/>
<rect x="160" y="372" width="11" height="11" fill="#f7fbff"/>
<rect x="171" y="372" width="11" height="11" fill="#f7fbff"/>
<rect x="182" y="372" width="12" height="11" fill="#f7fbff"/>
<rect x="194" y="372" width="11" height="11" fill="#f7fbff"/>
<rect x="205" y="372" width="11" height="11" fill="#f7fbff"/>
<rect x="216" y="372" width="11" height="11" fill="#f7fbff"/>
<rect x="227" y="372" width="11" height="11" fill="#f7fbff"/>
<rect x="238" y="372" width="11" height="11" fill="#f7fbff"/>
<rect x="249" y="372" width="12" height="11" fill="#f7fbff"/>
<rect x="261" y="372" width="11" height="11" fill="#f7fbff"/>
<rect x="272" y="372" width="11" height="11" fill="#f7fbff"/>
<rect x="283" y="372" width="11" height="11" fill="#f7fbff"/>
<rect x="294" y="372" width="11" height="11" fill="#f7fbff"/>
<rect x="305" y="372" width="12" height="11" fill="#f7fbff"/>
<rect x="317" y="372" width="11" height="11" fill="#f7fbff"/>
<rect x="328" y="372" width="11" height="11" fill="#f7fbff"/>
<rect x="339" y="372" width="11" height="11" fill="#f7fbff"/>
<rect x="350" y="372" width="11" height="11" fill="#f7fbff"/>
<rect x="361" y="372" width="12" height="11" fill="#f7fbff"/>
<rect x="373" y="372" width="11" height="11" fill="#f7fbff"/>
<rect x="384" y="372" width="11" height="11" fill="#f7fbff"/>
<rect x="395" y="372" width="11" height="11" fill="#f7fbff"/>
<rect x="406" y="372" width="11" height="11" fill="#f7fbff"/>
<rect x="417" y="372" width="11" height="11" fill="#f7fbff"/>
<rect x="428" y="372" width="12" height="11" fill="#f7fbff"/>
<rect x="440" y="372" width="11" height="11" fill="#f7fbff"/>
<rect x="451" y="372" width="11" height="11" fill="#f7fbff"/>
<rect x="462" y="372" width="11" height="11" fill="#f7fbff"/>
<rect x="473" y="372" width="11" height="11" fill="#f7fbff"/>
<rect x="484" y="372" width="12" height="11" fill="#f5fafe"/>
<rect x="496" y="372" width="11" height="11" fill="#f5fafe"/>
<rect x="507" y="372" width="11" height="11" fill="#f5fafe"/>
<rect x="518" y="372" width="11" height="11" fill="#f5fafe"/>
<rect x="529" y="372" width="11" height="11" fill="#f5fafe"/>
<rect x="540" y="372" width="11" height="11" fill="#f5fafe"/>
<rect x="551" y="372" width="12" height="11" fill="#f2f8fd"/>
<rect x="563" y="372" width="11" height="11" fill="#dfecf7"/>
<rect x="574" y="372" width="11" height="11" fill="#eaf3fb"/>
<rect x="585" y="372" width="11" height="11" fill="#87bddc"/>
<rect x="596" y="372" width="11" height="11" fill="#f5fafe"/>
<rect x="607" y="372" width="12" height="11" fill="#aed1e7"/>
<rect x="619" y="372" width="11" height="11" fill="#cfe1f2"/>
<rect x="630" y="372" width="11" height="11" fill="#c8dcf0"/>
<rect x="160" y="383" width="11" height="11" fill="#f7fbff"/>
<rect x="171" y="383" width="11" height="11" fill="#f7fbff"/>
<rect x="182" y="383" width="12" height="11" fill="#f7fbff"/>
<rect x="194" y="383" width="11" height="11" fill="#f7fbff"/>
<rect x="205" y="383" width="11" height="11" fill="#f7fbff"/>
<rect x="216" y="383" width="11" height="11" fill="#f7fbff"/>
<rect x="227" y="383" width="11" height="11" fill="#f7fbff"/>
<rect x="238" y="383" width="11" height="11" fill="#f7fbff"/>
<rect x="249" y="383" width="12" height="11" fill="#f7fbff"/>
<rect x="261" y="383" width="11" height="11" fill="#f7fbff"/>
<rect x="272" y="383" width="11" height="11" fill="#f7fbff"/>
<rect x="283" y="383" width="11" height="11" fill="#f7fbff"/>
<rect x="294" y="383" width="11" height="11" fill="#f7fbff"/>
<rect x="305" y="383" width="12" height="11" fill="#f7fbff"/>
<rect x="317" y="383" width="11" height="11" fill="#f7fbff"/>
<rect x="328" y="383" width="11" height="11" fill="#f7fbff"/>
<rect x="339" y="383" width="11" height="11" fill="#f7fbff"/>
<rect x="350" y="383" width="11" height="11" fill="#f7fbff"/>
<rect x="361" y="383" width="12" height="11" fill="#f7fbff"/>
<rect x="373" y="383" width="11" height="11" fill="#f7fbff"/>
<rect x="384" y="383" width="11" height="11" fill="#f7fbff"/>
<rect x="395" y="383" width="11" height="11" fill="#f7fbff"/>
<rect x="406" y="383" width="11" height="11" fill="#f7fbff"/>
<rect x="417" y="383" width="11" height="11" fill="#f7fbff"/>
<rect x="428" y="383" width="12" height="11" fill="#f7fbff"/>
<rect x="440" y="383" width="11" height="11" fill="#f7fbff"/>
<rect x="451" y="383" width="11" height="11" fill="#f7fbff"/>
<rect x="462" y="383" width="11" height="11" fill="#f7fbff"/>
<rect x="473" y="383" width="11" height="11" fill="#f7fbff"/>
<rect x="484" y="383" width="12" height="11" fill="#f7fbff"/>
<rect x="496" y="383" width="11" height="11" fill="#f5fafe"/>
<rect x="507" y="383" width="11" height="11" fill="#f5fafe"/>
<rect x="518" y="383" width="11" height="11" fill="#f5fafe"/>
<rect x="529" y="383" width="11" height="11" fill="#f5fafe"/>
<rect x="540" y="383" width="11" height="11" fill="#f5fafe"/>
<rect x="551" y="383" width="12" height="11" fill="#aed1e7"/>
<rect x="563" y="383" width="11" height="11" fill="#eff6fc"/>
<rect x="574" y="383" width="11" height="11" fill="#dbe9f6"/>
<rect x="585" y="383" width="11" height="11" fill="#a3cce3"/>
<rect x="596" y="383" width="11" height="11" fill="#f5fafe"/>
<rect x="607" y="383" width="12" height="11" fill="#aed1e7"/>
<rect x="619" y="383" width="11" height="11" fill="#cfe1f2"/>
<rect x="630" y="383" width="11" height="11" fill="#c8dcf0"/>
<rect x="160" y="394" width="11" height="12" fill="#f7fbff"/>
<rect x="171" y="394" width="11" height="12" fill="#f7fbff"/>
<rect x="182" y="394" width="12" height="12" fill="#f7fbff"/>
<rect x="194" y="394" width="11" height="12" fill="#f7fbff"/>
<rect x="205" y="394" width="11" height="12" fill="#f7fbff"/>
<rect x="216" y="394" width="11" height="12" fill="#f7fbff"/>
<rect x="227" y="394" width="11" height="12" fill="#f7fbff"/>
<rect x="238" y="394" width="11" height="12" fill="#f7fbff"/>
<rect x="249" y="394" width="12" height="12" fill="#f7fbff"/>
<rect x="261" y="394" width="11" height="12" fill="#f7fbff"/>
<rect x="272" y="394" width="11" height="12" fill="#f7fbff"/>
<rect x="283" y="394" width="11" height="12" fill="#f7fbff"/>
<rect x="294" y="394" width="11" height="12" fill="#f7fbff"/>
<rect x="305" y="394" width="12" height="12" fill="#f7fbff"/>
<rect x="317" y="394" width="11" height="12" fill="#f7fbff"/>
<rect x="328" y="394" width="11" height="12" fill="#f7fbff"/>
<rect x="339" y="394" width="11" height="12" fill="#f7fbff"/>
<rect x="350" y="394" width="11" height="12" fill="#f7fbff"/>
<rect x="361" y="394" width="12" height="12" fill="#f7fbff"/>
<rect x="373" y="394" width="11" height="12" fill="#f7fbff"/>
<rect x="384" y="394" width="11" height="12" fill="#f7fbff"/>
<rect x="395" y="394" width="11" height="12" fill="#f7fbff"/>
<rect x="406" y="394" width="11" height="12" fill="#f7fbff"/>
<rect x="417" y="394" width="11" height="12" fill="#f7fbff"/>
<rect x="428" y="394" width="12" height="12" fill="#f7fbff"/>
<rect x="440" y="394" width="11" height="12" fill="#f7fbff"/>
<rect x="451" y="394" width="11" height="12" fill="#f7fbff"/>
<rect x="462" y="394" width="11" height="12" fill="#f7fbff"/>
<rect x="473" y="394" width="11" height="12" fill="#f7fbff"/>
<rect x="484" y="394" width="12" height="12" fill="#f7fbff"/>
<rect x="496" y="394" width="11" height="12" fill="#f7fbff"/>
<rect x="507" y="394" width="11" height="12" fill="#f5fafe"/>
<rect x="518" y="394" width="11" height="12" fill="#f5fafe"/>
<rect x="529" y="394" width="11" height="12" fill="#f5fafe"/>
<rect x="540" y="394" width="11" height="12" fill="#f5fafe"/>
<rect x="551" y="394" width="12" height="12" fill="#dfecf7"/>
<rect x="563" y="394" width="11" height="12" fill="#eaf3fb"/>
<rect x="574" y="394" width="11" height="12" fill="#dceaf6"/>
<rect x="585" y="394" width="11" height="12" fill="#8cc0dd"/>
<rect x="596" y="394" width="11" height="12" fill="#f5fafe"/>
<rect x="607" y="394" width="12" height="12" fill="#c2d9ee"/>
<rect x="619" y="394" width="11" height="12" fill="#deebf7"/>
<rect x="630" y="394" width="11" height="12" fill="#d3e3f3"/>
<rect x="160" y="406" width="11" height="11" fill="#f7fbff"/>
<rect x="171" y="406" width="11" height="11" fill="#f7fbff"/>
<rect x="182" y="406" width="12" height="11" fill="#f7fbff"/>
<rect x="194" y="406" width="11" height="11" fill="#f7fbff"/>
<rect x="205" y="406" width="11" height="11" fill="#f7fbff"/>
<rect x="216" y="406" width="11" height="11" fill="#f7fbff"/>
<rect x="227" y="406" width="11" height="11" fill="#f7fbff"/>
<rect x="238" y="406" width="11" height="11" fill="#f7fbff"/>
<rect x="249" y="406" width="12" height="11" fill="#f7fbff"/>
<rect x="261" y="406" width="11" height="11" fill="#f7fbff"/>
<rect x="272" y="406" width="11" height="11" fill="#f7fbff"/>
<rect x="283" y="406" width="11" height="11" fill="#f7fbff"/>
<rect x="294" y="406" width="11" height="11" fill="#f7fbff"/>
<rect x="305" y="406" width="12" height="11" fill="#f7fbff"/>
<rect x="317" y="406" width="11" height="11" fill="#f7fbff"/>
<rect x="328" y="406" width="11" height="11" fill="#f7fbff"/>
<rect x="339" y="406" width="11" height="11" fill="#f7fbff"/>
<rect x="350" y="406" width="11" height="11" fill="#f7fbff"/>
<rect x="361" y="406" width="12" height="11" fill="#f7fbff"/>
<rect x="373" y="406" width="11" height="11" fill="#f7fbff"/>
<rect x="384" y="406" width="11" height="11" fill="#f7fbff"/>
<rect x="395" y="406" width="11" height="11" fill="#f7fbff"/>
<rect x="406" y="406" width="11" height="11" fill="#f7fbff"/>
<rect x="417" y="406" width="11" height="11" fill="#f7fbff"/>
<rect x="428" y="406" width="12" height="11" fill="#f7fbff"/>
<rect x="440" y="406" width="11" height="11" fill="#f7fbff"/>
<rect x="451" y="406" width="11" height="11" fill="#f7fbff"/>
<rect x="462" y="406" width="11" height="11" fill="#f7fbff"/>
<rect x="473" y="406" width="11" height="11" fill="#f7fbff"/>
<rect x="484" y="406" width="12" height="11" fill="#f7fbff"/>
<rect x="496" y="406" width="11" height="11" fill="#f7fbff"/>
<rect x="507" y="406" width="11" height="11" fill="#f7fbff"/>
<rect x="518" y="406" width="11" height="11" fill="#f5fafe"/>
<rect x="529" y="406" width="11" height="11" fill="#f5fafe"/>
<rect x="540" y="406" width="11" height="11" fill="#f5fafe"/>
<rect x="551" y="406" width="12" height="11" fill="#a3cce3"/>
<rect x="563" y="406" width="11" height="11" fill="#dfecf7"/>
<rect x="574" y="406" width="11" height="11" fill="#c1d9ed"/>
<rect x="585" y="406" width="11" height="11" fill="#9fcae1"/>
<rect x="596" y="406" width="11" height="11" fill="#f5fafe"/>
<rect x="607" y="406" width="12" height="11" fill="#cadef0"/>
<rect x="619" y="406" width="11" height="11" fill="#eff6fc"/>
<rect x="630" y="406" width="11" height="11" fill="#e4eff9"/>
<rect x="160" y="417" width="11" height="11" fill="#f7fbff"/>
<rect x="171" y="417" width="11" height="11" fill="#f7fbff"/>
<rect x="182" y="417" width="12" height="11" fill="#f7fbff"/>
<rect x="194" y="417" width="11" height="11" fill="#f7fbff"/>
<rect x="205" y="417" width="11" height="11" fill="#f7fbff"/>
<rect x="216" y="417" width="11" height="11" fill="#f7fbff"/>
<rect x="227" y="417" width="11" height="11" fill="#f7fbff"/>
<rect x="238" y="417" width="11" height="11" fill="#f7fbff"/>
<rect x="249" y="417" width="12" height="11" fill="#f7fbff"/>
<rect x="261" y="417" width="11" height="11" fill="#f7fbff"/>
<rect x="272" y="417" width="11" height="11" fill="#f7fbff"/>
<rect x="283" y="417" width="11" height="11" fill="#f7fbff"/>
<rect x="294" y="417" width="11" height="11" fill="#f7fbff"/>
<rect x="305" y="417" width="12" height="11" fill="#f7fbff"/>
<rect x="317" y="417" width="11" height="11" fill="#f7fbff"/>
<rect x="328" y="417" width="11" height="11" fill="#f7fbff"/>
<rect x="339" y="417" width="11" height="11" fill="#f7fbff"/>
<rect x="350" y="417" width="11" height="11" fill="#f7fbff"/>
<rect x="361" y="417" width="12" height="11" fill="#f7fbff"/>
<rect x="373" y="417" width="11" height="11" fill="#f7fbff"/>
<rect x="384" y="417" width="11" height="11" fill="#f7fbff"/>
<rect x="395" y="417" width="11" height="11" fill="#f7fbff"/>
<rect x="406" y="417" width="11" height="11" fill="#f7fbff"/>
<rect x="417" y="417" width="11" height="11" fill="#f7fbff"/>
<rect x="428" y="417" width="12" height="11" fill="#f7fbff"/>
<rect x="440" y="417" width="11" height="11" fill="#f7fbff"/>
<rect x="451" y="417" width="11" height="11" fill="#f7fbff"/>
<rect x="462" y="417" width="11" height="11" fill="#f7fbff"/>
<rect x="473" y="417" width="11" height="11" fill="#f7fbff"/>
<rect x="484" y="417" width="12" height="11" fill="#f7fbff"/>
<rect x="496" y="417" width="11" height="11" fill="#f7fbff"/>
<rect x="507" y="417" width="11" height="11" fill="#f7fbff"/>
<rect x="518" y="417" width="11" height="11" fill="#f7fbff"/>
<rect x="529" y="417" width="11" height="11" fill="#f5fafe"/>
<rect x="540" y="417" width="11" height="11" fill="#f5fafe"/>
<rect x="551" y="417" width="12" height="11" fill="#b8d5ea"/>
<rect x="563" y="417" width="11" height="11" fill="#dfecf7"/>
<rect x="574" y="417" width="11" height="11" fill="#cadef0"/>
<rect x="585" y="417" width="11" height="11" fill="#99c7e0"/>
<rect x="596" y="417" width="11" height="11" fill="#f5fafe"/>
<rect x="607" y="417" width="12" height="11" fill="#c4daee"/>
<rect x="619" y="417" width="11" height="11" fill="#eef5fc"/>
<rect x="630" y="417" width="11" height="11" fill="#e7f1fa"/>
<rect x="160" y="428" width="11" height="11" fill="#f7fbff"/>
<rect x="171" y="428" width="11" height="11" fill="#f7fbff"/>
<rect x="182" y="428" width="12" height="11" fill="#f7fbff"/>
<rect x="194" y="428" width="11" height="11" fill="#f7fbff"/>
<rect x="205" y="428" width="11" height="11" fill="#f7fbff"/>
<rect x="216" y="428" width="11" height="11" fill="#f7fbff"/>
<rect x="227" y="428" width="11" height="11" fill="#f7fbff"/>
<rect x="238" y="428" width="11" height="11" fill="#f7fbff"/>
<rect x="249" y="428" width="12" height="11" fill="#f7fbff"/>
<rect x="261" y="428" width="11" height="11" fill="#f7fbff"/>
<rect x="272" y="428" width="11" height="11" fill="#f7fbff"/>
<rect x="283" y="428" width="11" height="11" fill="#f7fbff"/>
<rect x="294" y="428" width="11" height="11" fill="#f7fbff"/>
<rect x="305" y="428" width="12" height="11" fill="#f7fbff"/>
<rect x="317" y="428" width="11" height="11" fill="#f7fbff"/>
<rect x="328" y="428" width="11" height="11" fill="#f7fbff"/>
<rect x="339" y="428" width="11" height="11" fill="#f7fbff"/>
<rect x="350" y="428" width="11" height="11" fill="#f7fbff"/>
<rect x="361" y="428" width="12" height="11" fill="#f7fbff"/>
<rect x="373" y="428" width="11" height="11" fill="#f7fbff"/>
<rect x="384" y="428" width="11" height="11" fill="#f7fbff"/>
<rect x="395" y="428" width="11" height="11" fill="#f7fbff"/>
<rect x="406" y="428" width="11" height="11" fill="#f7fbff"/>
<rect x="417" y="428" width="11" height="11" fill="#f7fbff"/>
<rect x="428" y="428" width="12" height="11" fill="#f7fbff"/>
<rect x="440" y="428" width="11" height="11" fill="#f7fbff"/>
<rect x="451" y="428" width="11" height="11" fill="#f7fbff"/>
<rect x="462" y="428" width="11" height="11" fill="#f7fbff"/>
<rect x="473" y="428" width="11" height="11" fill="#f7fbff"/>
<rect x="484" y="428" width="12" height="11" fill="#f7fbff"/>
<rect x="496" y="428" width="11" height="11" fill="#f7fbff"/>
<rect x="507" y="428" width="11" height="11" fill="#f7fbff"/>
<rect x="518" y="428" width="11" height="11" fill="#f7fbff"/>
<rect x="529" y="428" width="11" height="11" fill="#f7fbff"/>
<rect x="540" y="428" width="11" height="11" fill="#f5fafe"/>
<rect x="551" y="428" width="12" height="11" fill="#b8d5ea"/>
<rect x="563" y="428" width="11" height="11" fill="#eff6fc"/>
<rect x="574" y="428" width="11" height="11" fill="#eef5fc"/>
<rect x="585" y="428" width="11" height="11" fill="#8cc0dd"/>
<rect x="596" y="428" width="11" height="11" fill="#f5fafe"/>
<rect x="607" y="428" width="12" height="11" fill="#a8cee4"/>
<rect x="619" y="428" width="11" height="11" fill="#d3e3f3"/>
<rect x="630" y="428" width="11" height="11" fill="#cadef0"/>
<rect x="160" y="439" width="11" height="11" fill="#f7fbff"/>
<rect x="171" y="439" width="11" height="11" fill="#f7fbff"/>
<rect x="182" y="439" width="12" height="11" fill="#f7fbff"/>
<rect x="194" y="439" width="11" height="11" fill="#f7fbff"/>
<rect x="205" y="439" width="11" height="11" fill="#f7fbff"/>
<rect x="216" y="439" width="11" height="11" fill="#f7fbff"/>
<rect x="227" y="439" width="11" height="11" fill="#f7fbff"/>
<rect x="238" y="439" width="11" height="11" fill="#f7fbff"/>
<rect x="249" y="439" width="12" height="11" fill="#f7fbff"/>
<rect x="261" y="439" width="11" height="11" fill="#f7fbff"/>
<rect x="272" y="439" width="11" height="11" fill="#f7fbff"/>
<rect x="283" y="439" width="11" height="11" fill="#f7fbff"/>
<rect x="294" y="439" width="11" height="11" fill="#f7fbff"/>
<rect x="305" y="439" width="12" height="11" fill="#f7fbff"/>
<rect x="317" y="439" width="11" height="11" fill="#f7fbff"/>
<rect x="328" y="439" width="11" height="11" fill="#f7fbff"/>
<rect x="339" y="439" width="11" height="11" fill="#f7fbff"/>
<rect x="350" y="439" width="11" height="11" fill="#f7fbff"/>
<rect x="361" y="439" width="12" height="11" fill="#f7fbff"/>
<rect x="373" y="439" width="11" height="11" fill="#f7fbff"/>
<rect x="384" y="439" width="11" height="11" fill="#f7fbff"/>
<rect x="395" y="439" width="11" height="11" fill="#f7fbff"/>
<rect x="406" y="439" width="11" height="11" fill="#f7fbff"/>
<rect x="417" y="439" width="11" height="11" fill="#f7fbff"/>
<rect x="428" y="439" width="12" height="11" fill="#f7fbff"/>
<rect x="440" y="439" width="11" height="11" fill="#f7fbff"/>
<rect x="451" y="439" width="11" height="11" fill="#f7fbff"/>
<rect x="462" y="439" width="11" height="11" fill="#f7fbff"/>
<rect x="473" y="439" width="11" height="11" fill="#f7fbff"/>
<rect x="484" y="439" width="12" height="11" fill="#f7fbff"/>
<rect x="496" y="439" width="11" height="11" fill="#f7fbff"/>
<rect x="507" y="439" width="11" height="11" fill="#f7fbff"/>
<rect x="518" y="439" width="11" height="11" fill="#f7fbff"/>
<rect x="529" y="439" width="11" height="11" fill="#f7fbff"/>
<rect x="540" y="439" width="11" height="11" fill="#f7fbff"/>
<rect x="551" y="439" width="12" height="11" fill="#eaf3fb"/>
<rect x="563" y="439" width="11" height="11" fill="#eaf3fb"/>
<rect x="574" y="439" width="11" height="11" fill="#f5fafe"/>
<rect x="585" y="439" width="11" height="11" fill="#a3cce3"/>
<rect x="596" y="439" width="11" height="11" fill="#f5fafe"/>
<rect x="607" y="439" width="12" height="11" fill="#bcd7eb"/>
<rect x="619" y="439" width="11" height="11" fill="#e1edf8"/>
<rect x="630" y="439" width="11" height="11" fill="#dfecf7"/>
<rect x="160" y="450" width="11" height="12" fill="#f7fbff"/>
<rect x="171" y="450" width="11" height="12" fill="#f7fbff"/>
<rect x="182" y="450" width="12" height="12" fill="#f7fbff"/>
<rect x="194" y="450" width="11" height="12" fill="#f7fbff"/>
<rect x="205" y="450" width="11" height="12" fill="#f7fbff"/>
<rect x="216" y="450" width="11" height="12" fill="#f7fbff"/>
<rect x="227" y="450" width="11" height="12" fill="#f7fbff"/>
<rect x="238" y="450" width="11" height="12" fill="#f7fbff"/>
<rect x="249" y="450" width="12" height="12" fill="#f7fbff"/>
<rect x="261" y="450" width="11" height="12" fill="#f7fbff"/>
<rect x="272" y="450" width="11" height="12" fill="#f7fbff"/>
<rect x="283" y="450" width="11" height="12" fill="#f7fbff"/>
<rect x="294" y="450" width="11" height="12" fill="#f7fbff"/>
<rect x="305" y="450" width="12" height="12" fill="#f7fbff"/>
<rect x="317" y="450" width="11" height="12" fill="#f7fbff"/>
<rect x="328" y="450" width="11" height="12" fill="#f7fbff"/>
<rect x="339" y="450" width="11" height="12" fill="#f7fbff"/>
<rect x="350" y="450" width="11" height="12" fill="#f7fbff"/>
<rect x="361" y="450" width="12" height="12" fill="#f7fbff"/>
<rect x="373" y="450" width="11" height="12" fill="#f7fbff"/>
<rect x="384" y="450" width="11" height="12" fill="#f7fbff"/>
<rect x="395" y="450" width="11" height="12" fill="#f7fbff"/>
<rect x="406" y="450" width="11" height="12" fill="#f7fbff"/>
<rect x="417" y="450" width="11" height="12" fill="#f7fbff"/>
<rect x="428" y="450" width="12" height="12" fill="#f7fbff"/>
<rect x="440" y="450" width="11" height="12" fill="#f7fbff"/>
<rect x="451" y="450" width="11" height="12" fill="#f7fbff"/>
<rect x="462" y="450" width="11" height="12" fill="#f7fbff"/>
<rect x="473" y="450" width="11" height="12" fill="#f7fbff"/>
<rect x="484" y="450" width="12" height="12" fill="#f7fbff"/>
<rect x="496" y="450" width="11" height="12" fill="#f7fbff"/>
<rect x="507" y="450" width="11" height="12" fill="#f7fbff"/>
<rect x="518" y="450" width="11" height="12" fill="#f7fbff"/>
<rect x="529" y="450" width="11" height="12" fill="#f7fbff"/>
<rect x="540" y="450" width="11" height="12" fill="#f7fbff"/>
<rect x="551" y="450" width="12" height="12" fill="#f7fbff"/>
<rect x="563" y="450" width="11" height="12" fill="#f2f8fd"/>
<rect x="574" y="450" width="11" height="12" fill="#e7f1fa"/>
<rect x="585" y="450" width="11" height="12" fill="#d1e2f3"/>
<rect x="596" y="450" width="11" height="12" fill="#eaf3fb"/>
<rect x="607" y="450" width="12" height="12" fill="#b8d5ea"/>
<rect x="619" y="450" width="11" height="12" fill="#c2d9ee"/>
<rect x="630" y="450" width="11" height="12" fill="#e4eff9"/>
<rect x="160" y="462" width="11" height="11" fill="#f7fbff"/>
<rect x="171" y="462" width="11" height="11" fill="#f7fbff"/>
<rect x="182" y="462" width="12" height="11" fill="#f7fbff"/>
<rect x="194" y="462" width="11" height="11" fill="#f7fbff"/>
<rect x="205" y="462" width="11" height="11" fill="#f7fbff"/>
<rect x="216" y="462" width="11" height="11" fill="#f7fbff"/>
<rect x="227" y="462" width="11" height="11" fill="#f7fbff"/>
<rect x="238" y="462" width="11" height="11" fill="#f7fbff"/>
<rect x="249" y="462" width="12" height="11" fill="#f7fbff"/>
<rect x="261" y="462" width="11" height="11" fill="#f7fbff"/>
<rect x="272" y="462" width="11" height="11" fill="#f7fbff"/>
<rect x="283" y="462" width="11" height="11" fill="#f7fbff"/>
<rect x="294" y="462" width="11" height="11" fill="#f7fbff"/>
<rect x="305" y="462" width="12" height="11" fill="#f7fbff"/>
<rect x="317" y="462" width="11" height="11" fill="#f7fbff"/>
<rect x="328" y="462" width="11" height="11" fill="#f7fbff"/>
<rect x="339" y="462" width="11" height="11" fill="#f7fbff"/>
<rect x="350" y="462" width="11" height="11" fill="#f7fbff"/>
<rect x="361" y="462" width="12" height="11" fill="#f7fbff"/>
<rect x="373" y="462" width="11" height="11" fill="#f7fbff"/>
<rect x="384" y="462" width="11" height="11" fill="#f7fbff"/>
<rect x="395" y="462" width="11" height="11" fill="#f7fbff"/>
<rect x="406" y="462" width="11" height="11" fill="#f7fbff"/>
<rect x="417" y="462" width="11" height="11" fill="#f7fbff"/>
<rect x="428" y="462" width="12" height="11" fill="#f7fbff"/>
<rect x="440" y="462" width="11" height="11" fill="#f7fbff"/>
<rect x="451" y="462" width="11" height="11" fill="#f7fbff"/>
<rect x="462" y="462" width="11" height="11" fill="#f7fbff"/>
<rect x="473" y="462" width="11" height="11" fill="#f7fbff"/>
<rect x="484" y="462" width="12" height="11" fill="#f7fbff"/>
<rect x="496" y="462" width="11" height="11" fill="#f7fbff"/>
<rect x="507" y="462" width="11" height="11" fill="#f7fbff"/>
<rect x="518" y="462" width="11" height="11" fill="#f7fbff"/>
<rect x="529" y="462" width="11" height="11" fill="#f7fbff"/>
<rect x="540" y="462" width="11" height="11" fill="#f7fbff"/>
<rect x="551" y="462" width="12" height="11" fill="#f7fbff"/>
<rect x="563" y="462" width="11" height="11" fill="#f7fbff"/>
<rect x="574" y="462" width="11" height="11" fill="#e7f1fa"/>
<rect x="585" y="462" width="11" height="11" fill="#dfecf7"/>
<rect x="596" y="462" width="11" height="11" fill="#eaf3fb"/>
<rect x="607" y="462" width="12" height="11" fill="#e4eff9"/>
<rect x="619" y="462" width="11" height="11" fill="#e7f1fa"/>
<rect x="630" y="462" width="11" height="11" fill="#e4eff9"/>
<rect x="160" y="473" width="11" height="11" fill="#f7fbff"/>
<rect x="171" y="473" width="11" height="11" fill="#f7fbff"/>
<rect x="182" y="473" width="12" height="11" fill="#f7fbff"/>
<rect x="194" y="473" width="11" height="11" fill="#f7fbff"/>
<rect x="205" y="473" width="11" height="11" fill="#f7fbff"/>
<rect x="216" y="473" width="11" height="11" fill="#f7fbff"/>
<rect x="227" y="473" width="11" height="11" fill="#f7fbff"/>
<rect x="238" y="473" width="11" height="11" fill="#f7fbff"/>
<rect x="249" y="473" width="12" height="11" fill="#f7fbff"/>
<rect x="261" y="473" width="11" height="11" fill="#f7fbff"/>
<rect x="272" y="473" width="11" height="11" fill="#f7fbff"/>
<rect x="283" y="473" width="11" height="11" fill="#f7fbff"/>
<rect x="294" y="473" width="11" height="11" fill="#f7fbff"/>
<rect x="305" y="473" width="12" height="11" fill="#f7fbff"/>
<rect x="317" y="473" width="11" height="11" fill="#f7fbff"/>
<rect x="328" y="473" width="11" height="11" fill="#f7fbff"/>
<rect x="339" y="473" width="11" height="11" fill="#f7fbff"/>
<rect x="350" y="473" width="11" height="11" fill="#f7fbff"/>
<rect x="361" y="473" width="12" height="11" fill="#f7fbff"/>
<rect x="373" y="473" width="11" height="11" fill="#f7fbff"/>
<rect x="384" y="473" width="11" height="11" fill="#f7fbff"/>
<rect x="395" y="473" width="11" height="11" fill="#f7fbff"/>
<rect x="406" y="473" width="11" height="11" fill="#f7fbff"/>
<rect x="417" y="473" width="11" height="11" fill="#f7fbff"/>
<rect x="428" y="473" width="12" height="11" fill="#f7fbff"/>
<rect x="440" y="473" width="11" height="11" fill="#f7fbff"/>
<rect x="451" y="473" width="11" height="11" fill="#f7fbff"/>
<rect x="462" y="473" width="11" height="11" fill="#f7fbff"/>
<rect x="473" y="473" width="11" height="11" fill="#f7fbff"/>
<rect x="484" y="473" width="12" height="11" fill="#f7fbff"/>
<rect x="496" y="473" width="11" height="11" fill="#f7fbff"/>
<rect x="507" y="473" width="11" height="11" fill="#f7fbff"/>
<rect x="518" y="473" width="11" height="11" fill="#f7fbff"/>
<rect x="529" y="473" width="11" height="11" fill="#f7fbff"/>
<rect x="540" y="473" width="11" height="11" fill="#f7fbff"/>
<rect x="551" y="473" width="12" height="11" fill="#f7fbff"/>
<rect x="563" y="473" width="11" height="11" fill="#f7fbff"/>
<rect x="574" y="473" width="11" height="11" fill="#f7fbff"/>
<rect x="585" y="473" width="11" height="11" fill="#e7f1fa"/>
<rect x="596" y="473" width="11" height="11" fill="#eff6fc"/>
<rect x="607" y="473" width="12" height="11" fill="#f2f8fd"/>
<rect x="619" y="473" width="11" height="11" fill="#b8d5ea"/>
<rect x="630" y="473" width="11" height="11" fill="#dfecf7"/>
<rect x="160" y="484" width="11" height="11" fill="#f7fbff"/>
<rect x="171" y="484" width="11" height="11" fill="#f7fbff"/>
<rect x="182" y="484" width="12" height="11" fill="#f7fbff"/>
<rect x="194" y="484" width="11" height="11" fill="#f7fbff"/>
<rect x="205" y="484" width="11" height="11" fill="#f7fbff"/>
<rect x="216" y="484" width="11" height="11" fill="#f7fbff"/>
<rect x="227" y="484" width="11" height="11" fill="#f7fbff"/>
<rect x="238" y="484" width="11" height="11" fill="#f7fbff"/>
<rect x="249" y="484" width="12" height="11" fill="#f7fbff"/>
<rect x="261" y="484" width="11" height="11" fill="#f7fbff"/>
<rect x="272" y="484" width="11" height="11" fill="#f7fbff"/>
<rect x="283" y="484" width="11" height="11" fill="#f7fbff"/>
<rect x="294" y="484" width="11" height="11" fill="#f7fbff"/>
<rect x="305" y="484" width="12" height="11" fill="#f7fbff"/>
<rect x="317" y="484" width="11" height="11" fill="#f7fbff"/>
<rect x="328" y="484" width="11" height="11" fill="#f7fbff"/>
<rect x="339" y="484" width="11" height="11" fill="#f7fbff"/>
<rect x="350" y="484" width="11" height="11" fill="#f7fbff"/>
<rect x="361" y="484" width="12" height="11" fill="#f7fbff"/>
<rect x="373" y="484" width="11" height="11" fill="#f7fbff"/>
<rect x="384" y="484" width="11" height="11" fill="#f7fbff"/>
<rect x="395" y="484" width="11" height="11" fill="#f7fbff"/>
<rect x="406" y="484" width="11" height="11" fill="#f7fbff"/>
<rect x="417" y="484" width="11" height="11" fill="#f7fbff"/>
<rect x="428" y="484" width="12" height="11" fill="#f7fbff"/>
<rect x="440" y="484" width="11" height="11" fill="#f7fbff"/>
<rect x="451" y="484" width="11" height="11" fill="#f7fbff"/>
<rect x="462" y="484" width="11" height="11" fill="#f7fbff"/>
<rect x="473" y="484" width="11" height="11" fill="#f7fbff"/>
<rect x="484" y="484" width="12" height="11" fill="#f7fbff"/>
<rect x="496" y="484" width="11" height="11" fill="#f7fbff"/>
<rect x="507" y="484" width="11" height="11" fill="#f7fbff"/>
<rect x="518" y="484" width="11" height="11" fill="#f7fbff"/>
<rect x="529" y="484" width="11" height="11" fill="#f7fbff"/>
<rect x="540" y="484" width="11" height="11" fill="#f7fbff"/>
<rect x="551" y="484" width="12" height="11" fill="#f7fbff"/>
<rect x="563" y="484" width="11" height="11" fill="#f7fbff"/>
<rect x="574" y="484" width="11" height="11" fill="#f7fbff"/>
<rect x="585" y="484" width="11" height="11" fill="#f7fbff"/>
<rect x="596" y="484" width="11" height="11" fill="#87bddc"/>
<rect x="607" y="484" width="12" height="11" fill="#f5fafe"/>
<rect x="619" y="484" width="11" height="11" fill="#f4f9fe"/>
<rect x="630" y="484" width="11" height="11" fill="#f4f9fe"/>
<rect x="160" y="495" width="11" height="11" fill="#f7fbff"/>
<rect x="171" y="495" width="11" height="11" fill="#f7fbff"/>
<rect x="182" y="495" width="12" height="11" fill="#f7fbff"/>
<rect x="194" y="495" width="11" height="11" fill="#f7fbff"/>
<rect x="205" y="495" width="11" height="11" fill="#f7fbff"/>
<rect x="216" y="495" width="11" height="11" fill="#f7fbff"/>
<rect x="227" y="495" width="11" height="11" fill="#f7fbff"/>
<rect x="238" y="495" width="11" height="11" fill="#f7fbff"/>
<rect x="249" y="495" width="12" height="11" fill="#f7fbff"/>
<rect x="261" y="495" width="11" height="11" fill="#f7fbff"/>
<rect x="272" y="495" width="11" height="11" fill="#f7fbff"/>
<rect x="283" y="495" width="11" height="11" fill="#f7fbff"/>
<rect x="294" y="495" width="11" height="11" fill="#f7fbff"/>
<rect x="305" y="495" width="12" height="11" fill="#f7fbff"/>
<rect x="317" y="495" width="11" height="11" fill="#f7fbff"/>
<rect x="328" y="495" width="11" height="11" fill="#f7fbff"/>
<rect x="339" y="495" width="11" height="11" fill="#f7fbff"/>
<rect x="350" y="495" width="11" height="11" fill="#f7fbff"/>
<rect x="361" y="495" width="12" height="11" fill="#f7fbff"/>
<rect x="373" y="495" width="11" height="11" fill="#f7fbff"/>
<rect x="384" y="495" width="11" height="11" fill="#f7fbff"/>
<rect x="395" y="495" width="11" height="11" fill="#f7fbff"/>
<rect x="406" y="495" width="11" height="11" fill="#f7fbff"/>
<rect x="417" y="495" width="11" height="11" fill="#f7fbff"/>
<rect x="428" y="495" width="12" height="11" fill="#f7fbff"/>
<rect x="440" y="495" width="11" height="11" fill="#f7fbff"/>
<rect x="451" y="495" width="11" height="11" fill="#f7fbff"/>
<rect x="462" y="495" width="11" height="11" fill="#f7fbff"/>
<rect x="473" y="495" width="11" height="11" fill="#f7fbff"/>
<rect x="484" y="495" width="12" height="11" fill="#f7fbff"/>
<rect x="496" y="495" width="11" height="11" fill="#f7fbff"/>
<rect x="507" y="495" width="11" height="11" fill="#f7fbff"/>
<rect x="518" y="495" width="11" height="11" fill="#f7fbff"/>
<rect x="529" y="495" width="11" height="11" fill="#f7fbff"/>
<rect x="540" y="495" width="11" height="11" fill="#f7fbff"/>
<rect x="551" y="495" width="12" height="11" fill="#f7fbff"/>
<rect x="563" y="495" width="11" height="11" fill="#f7fbff"/>
<rect x="574" y="495" width="11" height="11" fill="#f7fbff"/>
<rect x="585" y="495" width="11" height="11" fill="#f7fbff"/>
<rect x="596" y="495" width="11" height="11" fill="#f7fbff"/>
<rect x="607" y="495" width="12" height="11" fill="#b8d5ea"/>
<rect x="619" y="495" width="11" height="11" fill="#d1e2f3"/>
<rect x="630" y="495" width="11" height="11" fill="#cadef0"/>
<rect x="160" y="506" width="11" height="11" fill="#f7fbff"/>
<rect x="171" y="506" width="11" height="11" fill="#f7fbff"/>
<rect x="182" y="506" width="12" height="11" fill="#f7fbff"/>
<rect x="194" y="506" width="11" height="11" fill="#f7fbff"/>
<rect x="205" y="506" width="11" height="11" fill="#f7fbff"/>
<rect x="216" y="506" width="11" height="11" fill="#f7fbff"/>
<rect x="227" y="506" width="11" height="11" fill="#f7fbff"/>
<rect x="238" y="506" width="11" height="11" fill="#f7fbff"/>
<rect x="249" y="506" width="12" height="11" fill="#f7fbff"/>
<rect x="261" y="506" width="11" height="11" fill="#f7fbff"/>
<rect x="272" y="506" width="11" height="11" fill="#f7fbff"/>
<rect x="283" y="506" width="11" height="11" fill="#f7fbff"/>
<rect x="294" y="506" width="11" height="11" fill="#f7fbff"/>
<rect x="305" y="506" width="12" height="11" fill="#f7fbff"/>
<rect x="317" y="506" width="11" height="11" fill="#f7fbff"/>
<rect x="328" y="506" width="11" height="11" fill="#f7fbff"/>
<rect x="339" y="506" width="11" height="11" fill="#f7fbff"/>
<rect x="350" y="506" width="11" height="11" fill="#f7fbff"/>
<rect x="361" y="506" width="12" height="11" fill="#f7fbff"/>
<rect x="373" y="506" width="11" height="11" fill="#f7fbff"/>
<rect x="384" y="506" width="11" height="11" fill="#f7fbff"/>
<rect x="395" y="506" width="11" height="11" fill="#f7fbff"/>
<rect x="406" y="506" width="11" height="11" fill="#f7fbff"/>
<rect x="417" y="506" width="11" height="11" fill="#f7fbff"/>
<rect x="428" y="506" width="12" height="11" fill="#f7fbff"/>
<rect x="440" y="506" width="11" height="11" fill="#f7fbff"/>
<rect x="451" y="506" width="11" height="11" fill="#f7fbff"/>
<rect x="462" y="506" width="11" height="11" fill="#f7fbff"/>
<rect x="473" y="506" width="11" height="11" fill="#f7fbff"/>
<rect x="484" y="506" width="12" height="11" fill="#f7fbff"/>
<rect x="496" y="506" width="11" height="11" fill="#f7fbff"/>
<rect x="507" y="506" width="11" height="11" fill="#f7fbff"/>
<rect x="518" y="506" width="11" height="11" fill="#f7fbff"/>
<rect x="529" y="506" width="11" height="11" fill="#f7fbff"/>
<rect x="540" y="506" width="11" height="11" fill="#f7fbff"/>
<rect x="551" y="506" width="12" height="11" fill="#f7fbff"/>
<rect x="563" y="506" width="11" height="11" fill="#f7fbff"/>
<rect x="574" y="506" width="11" height="11" fill="#f7fbff"/>
<rect x="585" y="506" width="11" height="11" fill="#f7fbff"/>
<rect x="596" y="506" width="11" height="11" fill="#f7fbff"/>
<rect x="607" y="506" width="12" height="11" fill="#f7fbff"/>
<rect x="619" y="506" width="11" height="11" fill="#f5fafe"/>
<rect x="630" y="506" width="11" height="11" fill="#f5fafe"/>
<rect x="160" y="517" width="11" height="12" fill="#f7fbff"/>
<rect x="171" y="517" width="11" height="12" fill="#f7fbff"/>
<rect x="182" y="517" width="12" height="12" fill="#f7fbff"/>
<rect x="194" y="517" width="11" height="12" fill="#f7fbff"/>
<rect x="205" y="517" width="11" height="12" fill="#f7fbff"/>
<rect x="216" y="517" width="11" height="12" fill="#f7fbff"/>
<rect x="227" y="517" width="11" height="12" fill="#f7fbff"/>
<rect x="238" y="517" width="11" height="12" fill="#f7fbff"/>
<rect x="249" y="517" width="12" height="12" fill="#f7fbff"/>
<rect x="261" y="517" width="11" height="12" fill="#f7fbff"/>
<rect x="272" y="517" width="11" height="12" fill="#f7fbff"/>
<rect x="283" y="517" width="11" height="12" fill="#f7fbff"/>
<rect x="294" y="517" width="11" height="12" fill="#f7fbff"/>
<rect x="305" y="517" width="12" height="12" fill="#f7fbff"/>
<rect x="317" y="517" width="11" height="12" fill="#f7fbff"/>
<rect x="328" y="517" width="11" height="12" fill="#f7fbff"/>
<rect x="339" y="517" width="11" height="12" fill="#f7fbff"/>
<rect x="350" y="517" width="11" height="12" fill="#f7fbff"/>
<rect x="361" y="517" width="12" height="12" fill="#f7fbff"/>
<rect x="373" y="517" width="11" height="12" fill="#f7fbff"/>
<rect x="384" y="517" width="11" height="12" fill="#f7fbff"/>
<rect x="395" y="517" width="11" height="12" fill="#f7fbff"/>
<rect x="406" y="517" width="11" height="12" fill="#f7fbff"/>
<rect x="417" y="517" width="11" height="12" fill="#f7fbff"/>
<rect x="428" y="517" width="12" height="12" fill="#f7fbff"/>
<rect x="440" y="517" width="11" height="12" fill="#f7fbff"/>
<rect x="451" y="517" width="11" height="12" fill="#f7fbff"/>
<rect x="462" y="517" width="11" height="12" fill="#f7fbff"/>
<rect x="473" y="517" width="11" height="12" fill="#f7fbff"/>
<rect x="484" y="517" width="12" height="12" fill="#f7fbff"/>
<rect x="496" y="517" width="11" height="12" fill="#f7fbff"/>
<rect x="507" y="517" width="11" height="12" fill="#f7fbff"/>
<rect x="518" y="517" width="11" height="12" fill="#f7fbff"/>
<rect x="529" y="517" width="11" height="12" fill="#f7fbff"/>
<rect x="540" y="517" width="11" height="12" fill="#f7fbff"/>
<rect x="551" y="517" width="12" height="12" fill="#f7fbff"/>
<rect x="563" y="517" width="11" height="12" fill="#f7fbff"/>
<rect x="574" y="517" width="11" height="12" fill="#f7fbff"/>
<rect x="585" y="517" width="11" height="12" fill="#f7fbff"/>
<rect x="596" y="517" width="11" height="12" fill="#f7fbff"/>
<rect x="607" y="517" width="12" height="12" fill="#f7fbff"/>
<rect x="619" y="517" width="11" height="12" fill="#f7fbff"/>
<rect x="630" y="517" width="11" height="12" fill="#f7fbff"/>
<rect x="160" y="529" width="11" height="11" fill="#f7fbff"/>
<rect x="171" y="529" width="11" height="11" fill="#f7fbff"/>
<rect x="182" y="529" width="12" height="11" fill="#f7fbff"/>
<rect x="194" y="529" width="11" height="11" fill="#f7fbff"/>
<rect x="205" y="529" width="11" height="11" fill="#f7fbff"/>
<rect x="216" y="529" width="11" height="11" fill="#f7fbff"/>
<rect x="227" y="529" width="11" height="11" fill="#f7fbff"/>
<rect x="238" y="529" width="11" height="11" fill="#f7fbff"/>
<rect x="249" y="529" width="12" height="11" fill="#f7fbff"/>
<rect x="261" y="529" width="11" height="11" fill="#f7fbff"/>
<rect x="272" y="529" width="11" height="11" fill="#f7fbff"/>
<rect x="283" y="529" width="11" height="11" fill="#f7fbff"/>
<rect x="294" y="529" width="11" height="11" fill="#f7fbff"/>
<rect x="305" y="529" width="12" height="11" fill="#f7fbff"/>
<rect x="317" y="529" width="11" height="11" fill="#f7fbff"/>
<rect x="328" y="529" width="11" height="11" fill="#f7fbff"/>
<rect x="339" y="529" width="11" height="11" fill="#f7fbff"/>
<rect x="350" y="529" width="11" height="11" fill="#f7fbff"/>
<rect x="361" y="529" width="12" height="11" fill="#f7fbff"/>
<rect x="373" y="529" width="11" height="11" fill="#f7fbff"/>
<rect x="384" y="529" width="11" height="11" fill="#f7fbff"/>
<rect x="395" y="529" width="11" height="11" fill="#f7fbff"/>
<rect x="406" y="529" width="11" height="11" fill="#f7fbff"/>
<rect x="417" y="529" width="11" height="11" fill="#f7fbff"/>
<rect x="428" y="529" width="12" height="11" fill="#f7fbff"/>
<rect x="440" y="529" width="11" height="11" fill="#f7fbff"/>
<rect x="451" y="529" width="11" height="11" fill="#f7fbff"/>
<rect x="462" y="529" width="11" height="11" fill="#f7fbff"/>
<rect x="473" y="529" width="11" height="11" fill="#f7fbff"/>
<rect x="484" y="529" width="12" height="11" fill="#f7fbff"/>
<rect x="496" y="529" width="11" height="11" fill="#f7fbff"/>
<rect x="507" y="529" width="11" height="11" fill="#f7fbff"/>
<rect x="518" y="529" width="11" height="11" fill="#f7fbff"/>
<rect x="529" y="529" width="11" height="11" fill="#f7fbff"/>
<rect x="540" y="529" width="11" height="11" fill="#f7fbff"/>
<rect x="551" y="529" width="12" height="11" fill="#f7fbff"/>
<rect x="563" y="529" width="11" height="11" fill="#f7fbff"/>
<rect x="574" y="529" width="11" height="11" fill="#f7fbff"/>
<rect x="585" y="529" width="11" height="11" fill="#f7fbff"/>
<rect x="596" y="529" width="11" height="11" fill="#f7fbff"/>
<rect x="607" y="529" width="12" height="11" fill="#f7fbff"/>
<rect x="619" y="529" width="11" height="11" fill="#f7fbff"/>
<rect x="630" y="529" width="11" height="11" fill="#f7fbff"/>
</svg>
<svg width="800" height="600" viewBox="0 0 800 600" style="position:absolute;left:0;top:0;will-change:transform">
<path d="M166.50 60.50V67.10M166.50 540.50V533.90M160.50 66.50H167.10M640.50 66.50H633.90M177.50 60.50V67.10M177.50 540.50V533.90M160.50 77.50H167.10M640.50 77.50H633.90M188.50 60.50V67.10M188.50 540.50V533.90M160.50 88.50H167.10M640.50 88.50H633.90M199.50 60.50V67.10M199.50 540.50V533.90M160.50 99.50H167.10M640.50 99.50H633.90M210.50 60.50V67.10M210.50 540.50V533.90M160.50 110.50H167.10M640.50 110.50H633.90M221.50 60.50V67.10M221.50 540.50V533.90M160.50 121.50H167.10M640.50 121.50H633.90M233.50 60.50V67.10M233.50 540.50V533.90M160.50 133.50H167.10M640.50 133.50H633.90M244.50 60.50V67.10M244.50 540.50V533.90M160.50 144.50H167.10M640.50 144.50H633.90M255.50 60.50V67.10M255.50 540.50V533.90M160.50 155.50H167.10M640.50 155.50H633.90M266.50 60.50V67.10M266.50 540.50V533.90M160.50 166.50H167.10M640.50 166.50H633.90M277.50 60.50V67.10M277.50 540.50V533.90M160.50 177.50H167.10M640.50 177.50H633.90M288.50 60.50V67.10M288.50 540.50V533.90M160.50 188.50H167.10M640.50 188.50H633.90M300.50 60.50V67.10M300.50 540.50V533.90M160.50 200.50H167.10M640.50 200.50H633.90M311.50 60.50V67.10M311.50 540.50V533.90M160.50 211.50H167.10M640.50 211.50H633.90M322.50 60.50V67.10M322.50 540.50V533.90M160.50 222.50H167.10M640.50 222.50H633.90M333.50 60.50V67.10M333.50 540.50V533.90M160.50 233.50H167.10M640.50 233.50H633.90M344.50 60.50V67.10M344.50 540.50V533.90M160.50 244.50H167.10M640.50 244.50H633.90M355.50 60.50V67.10M355.50 540.50V533.90M160.50 255.50H167.10M640.50 255.50H633.90M367.50 60.50V67.10M367.50 540.50V533.90M160.50 267.50H167.10M640.50 267.50H633.90M378.50 60.50V67.10M378.50 540.50V533.90M160.50 278.50H167.10M640.50 278.50H633.90M389.50 60.50V67.10M389.50 540.50V533.90M160.50 289.50H167.10M640.50 289.50H633.90M400.50 60.50V67.10M400.50 540.50V533.90M160.50 300.50H167.10M640.50 300.50H633.90M411.50 60.50V67.10M411.50 540.50V533.90M160.50 311.50H167.10M640.50 311.50H633.90M422.50 60.50V67.10M422.50 540.50V533.90M160.50 322.50H167.10M640.50 322.50H633.90M433.50 60.50V67.10M433.50 540.50V533.90M160.50 333.50H167.10M640.50 333.50H633.90M445.50 60.50V67.10M445.50 540.50V533.90M160.50 345.50H167.10M640.50 345.50H633.90M456.50 60.50V67.10M456.50 540.50V533.90M160.50 356.50H167.10M640.50 356.50H633.90M467.50 60.50V67.10M467.50 540.50V533.90M160.50 367.50H167.10M640.50 367.50H633.90M478.50 60.50V67.10M478.50 540.50V533.90M160.50 378.50H167.10M640.50 378.50H633.90M489.50 60.50V67.10M489.50 540.50V533.90M160.50 389.50H167.10M640.50 389.50H633.90M500.50 60.50V67.10M500.50 540.50V533.90M160.50 400.50H167.10M640.50 400.50H633.90M512.50 60.50V67.10M512.50 540.50V533.90M160.50 412.50H167.10M640.50 412.50H633.90M523.50 60.50V67.10M523.50 540.50V533.90M160.50 423.50H167.10M640.50 423.50H633.90M534.50 60.50V67.10M534.50 540.50V533.90M160.50 434.50H167.10M640.50 434.50H633.90M545.50 60.50V67.10M545.50 540.50V533.90M160.50 445.50H167.10M640.50 445.50H633.90M556.50 60.50V67.10M556.50 540.50V533.90M160.50 456.50H167.10M640.50 456.50H633.90M567.50 60.50V67.10M567.50 540.50V533.90M160.50 467.50H167.10M640.50 467.50H633.90M579.50 60.50V67.10M579.50 540.50V533.90M160.50 479.50H167.10M640.50 479.50H633.90M590.50 60.50V67.10M590.50 540.50V533.90M160.50 490.50H167.10M640.50 490.50H633.90M601.50 60.50V67.10M601.50 540.50V533.90M160.50 501.50H167.10M640.50 501.50H633.90M612.50 60.50V67.10M612.50 540.50V533.90M160.50 512.50H167.10M640.50 512.50H633.90M623.50 60.50V67.10M623.50 540.50V533.90M160.50 523.50H167.10M640.50 523.50H633.90M634.50 60.50V67.10M634.50 540.50V533.90M160.50 534.50H167.10M640.50 534.50H633.90" stroke="#333" stroke-width="1.00" fill="none" shape-rendering="crispEdges"/>
<rect x="160.5" y="60.5" width="480" height="480" fill="none" stroke="#000" stroke-width="1.4"/>
<defs><linearGradient id="cb" x1="0" y1="0" x2="0" y2="1"><stop offset="0%" stop-color="#08306b"/><stop offset="5%" stop-color="#083c7d"/><stop offset="10%" stop-color="#084a91"/><stop offset="15%" stop-color="#0d57a1"/><stop offset="20%" stop-color="#1764ab"/><stop offset="25%" stop-color="#2171b5"/><stop offset="30%" stop-color="#2e7ebc"/><stop offset="35%" stop-color="#3b8bc2"/><stop offset="40%" stop-color="#4a98c9"/><stop offset="45%" stop-color="#5ba3d0"/><stop offset="50%" stop-color="#6aaed6"/><stop offset="55%" stop-color="#7fb9da"/><stop offset="60%" stop-color="#94c4df"/><stop offset="65%" stop-color="#a6cee4"/><stop offset="70%" stop-color="#b7d4ea"/><stop offset="75%" stop-color="#c6dbef"/><stop offset="80%" stop-color="#d0e1f2"/><stop offset="85%" stop-color="#d9e8f5"/><stop offset="90%" stop-color="#e3eef9"/><stop offset="95%" stop-color="#eef5fc"/><stop offset="100%" stop-color="#f7fbff"/></linearGradient></defs>
<rect x="680.5" y="60.5" width="16" height="480" fill="url(#cb)" stroke="#000" stroke-width="1.4"/>
<path d="M696.50 487.50H689.90M696.50 434.50H689.90M696.50 381.50H689.90M696.50 329.50H689.90M696.50 276.50H689.90M696.50 223.50H689.90M696.50 170.50H689.90M696.50 118.50H689.90M696.50 65.50H689.90" stroke="#333" stroke-width="1.00" fill="none" shape-rendering="crispEdges"/>
<text x="165.38" y="54.20" font-size="16.67" text-anchor="middle" font-family="Liberation Sans, sans-serif">C1'</text>
<text x="155.50" y="71.38" font-size="16.67" text-anchor="end" font-family="Liberation Sans, sans-serif">C1'</text>
<text x="221.20" y="54.20" font-size="16.67" text-anchor="middle" font-family="Liberation Sans, sans-serif">C4'</text>
<text x="155.50" y="127.20" font-size="16.67" text-anchor="end" font-family="Liberation Sans, sans-serif">C4'</text>
<text x="277.01" y="54.20" font-size="16.67" text-anchor="middle" font-family="Liberation Sans, sans-serif">N3</text>
<text x="155.50" y="183.01" font-size="16.67" text-anchor="end" font-family="Liberation Sans, sans-serif">N3</text>
<text x="332.82" y="54.20" font-size="16.67" text-anchor="middle" font-family="Liberation Sans, sans-serif">O4'</text>
<text x="155.50" y="238.82" font-size="16.67" text-anchor="end" font-family="Liberation Sans, sans-serif">O4'</text>
<text x="388.64" y="54.20" font-size="16.67" text-anchor="middle" font-family="Liberation Sans, sans-serif">C1'</text>
<text x="155.50" y="294.64" font-size="16.67" text-anchor="end" font-family="Liberation Sans, sans-serif">C1'</text>
<text x="444.45" y="54.20" font-size="16.67" text-anchor="middle" font-family="Liberation Sans, sans-serif">C4'</text>
<text x="155.50" y="350.45" font-size="16.67" text-anchor="end" font-family="Liberation Sans, sans-serif">C4'</text>
<text x="500.27" y="54.20" font-size="16.67" text-anchor="middle" font-family="Liberation Sans, sans-serif">N1</text>
<text x="155.50" y="406.27" font-size="16.67" text-anchor="end" font-family="Liberation Sans, sans-serif">N1</text>
<text x="556.08" y="54.20" font-size="16.67" text-anchor="middle" font-family="Liberation Sans, sans-serif">O2'</text>
<text x="155.50" y="462.08" font-size="16.67" text-anchor="end" font-family="Liberation Sans, sans-serif">O2'</text>
<text x="611.89" y="54.20" font-size="16.67" text-anchor="middle" font-family="Liberation Sans, sans-serif">OP1</text>
<text x="155.50" y="517.89" font-size="16.67" text-anchor="end" font-family="Liberation Sans, sans-serif">OP1</text>
<text x="702.00" y="545.70" font-size="16.67" font-family="Liberation Sans, sans-serif">0.0</text>
<text x="702.00" y="492.96" font-size="16.67" font-family="Liberation Sans, sans-serif">0.2</text>
<text x="702.00" y="440.22" font-size="16.67" font-family="Liberation Sans, sans-serif">0.4</text>
<text x="702.00" y="387.48" font-size="16.67" font-family="Liberation Sans, sans-serif">0.6</text>
<text x="702.00" y="334.74" font-size="16.67" font-family="Liberation Sans, sans-serif">0.8</text>
<text x="702.00" y="282.00" font-size="16.67" font-family="Liberation Sans, sans-serif">1.0</text>
<text x="702.00" y="229.26" font-size="16.67" font-family="Liberation Sans, sans-serif">1.2</text>
<text x="702.00" y="176.52" font-size="16.67" font-family="Liberation Sans, sans-serif">1.4</text>
<text x="702.00" y="123.78" font-size="16.67" font-family="Liberation Sans, sans-serif">1.6</text>
<text x="702.00" y="71.04" font-size="16.67" font-family="Liberation Sans, sans-serif">1.8</text>
</svg>
</div></body></html>
